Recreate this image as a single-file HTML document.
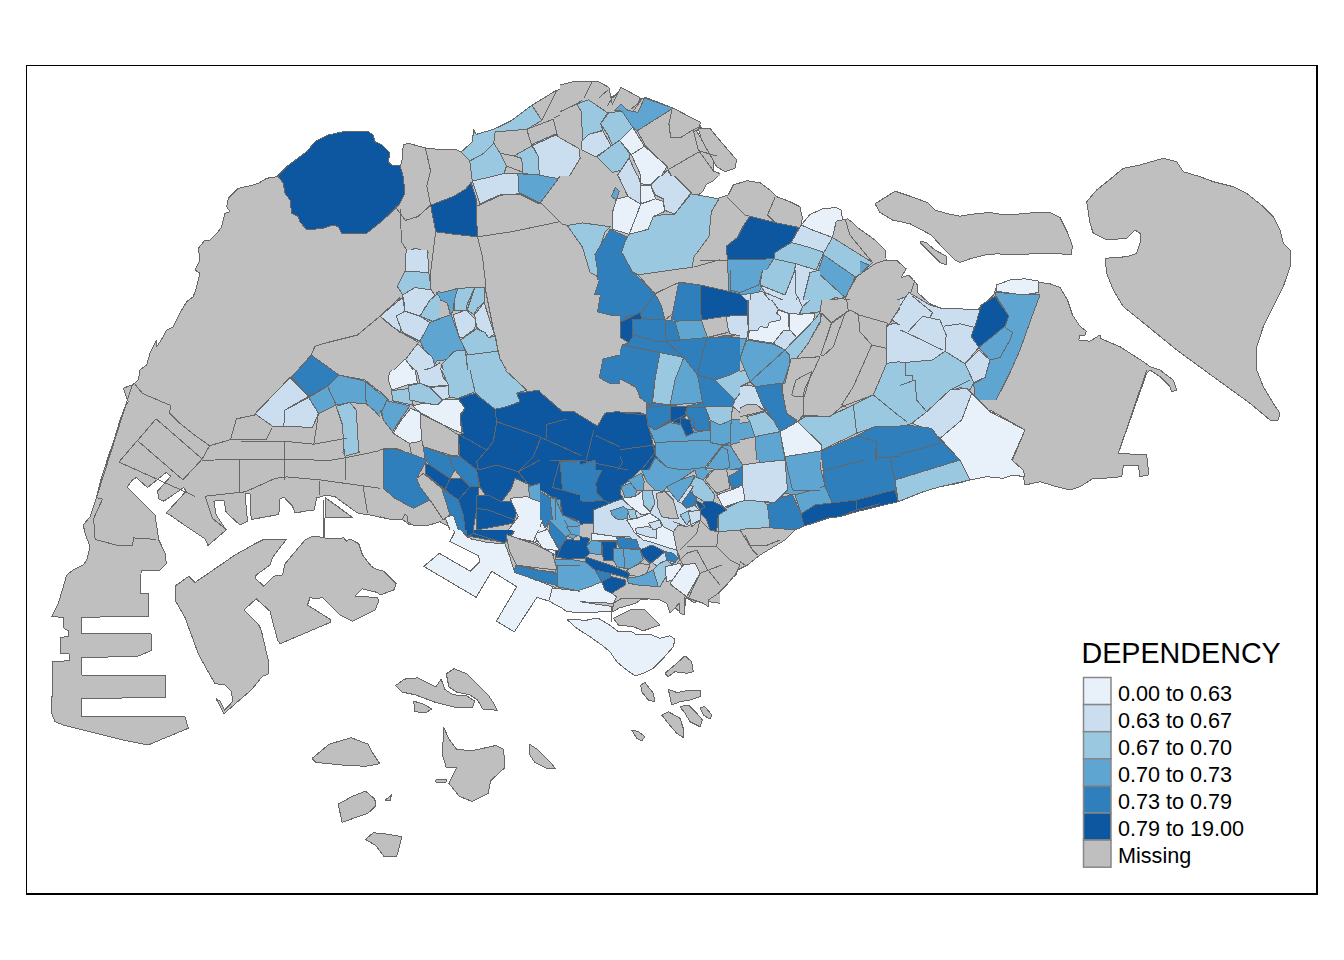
<!DOCTYPE html>
<html><head><meta charset="utf-8"><style>
html,body{margin:0;padding:0;background:#fff;}
svg{display:block;}
text{font-family:"Liberation Sans",sans-serif;fill:#000;}
</style></head><body>
<svg width="1344" height="960" viewBox="0 0 1344 960">
<rect x="0" y="0" width="1344" height="960" fill="#fff"/>
<g stroke="#666666" stroke-width="1" stroke-linejoin="round" shape-rendering="crispEdges">
<polygon fill="#BFBFBF" points="188.3,728.3 160.0,740.0 148.3,745.0 123.3,740.0 83.3,730.0 63.3,725.0 55.0,721.7 51.7,713.3 52.7,661.7 69.3,660.7 69.3,654.0 60.0,653.3 60.0,637.3 68.3,636.7 68.3,630.7 64.0,628.3 63.3,617.3 51.7,616.7 58.3,603.3 63.3,586.7 66.7,575.0 73.3,570.0 83.3,565.0 86.7,560.0 90.0,546.7 85.0,533.3 83.3,525.0 90.0,516.7 96.7,496.7 101.7,476.7 108.3,456.7 115.0,436.7 120.0,420.0 125.0,406.7 128.3,401.7 125.0,393.3 123.3,388.3 131.7,385.0 135.0,383.3 138.3,380.0 140.0,370.0 146.7,365.0 150.0,353.3 156.7,340.0 156.7,346.7 163.3,336.7 166.7,330.0 173.3,326.7 181.7,310.0 186.7,301.7 193.3,296.7 196.7,286.7 200.0,273.3 195.0,270.0 200.0,260.0 198.3,248.3 205.0,240.0 210.0,240.0 218.3,231.7 221.7,226.7 225.0,213.3 230.0,211.7 226.7,206.7 228.3,198.3 238.3,188.3 253.3,185.0 258.3,183.3 266.7,178.3 276.7,176.7 278.3,176.7 286.7,166.7 306.7,151.7 315.0,141.7 328.3,135.0 343.3,131.7 368.3,131.7 373.3,135.0 375.0,141.7 381.7,145.0 390.0,153.3 388.3,161.7 391.7,165.0 400.0,165.0 401.7,163.3 403.3,145.0 408.3,143.3 426.7,148.3 446.7,150.0 455.9,149.6 461.0,152.1 472.3,142.0 473.6,129.3 476.1,134.4 493.8,129.3 511.5,120.5 531.8,105.3 554.6,91.4 574.8,82.5 597.6,82.5 601.4,85.1 600.1,90.1 612.7,97.7 621.6,88.9 640.6,99.0 645.6,97.7 672.2,107.8 698.8,123.0 701.3,128.1 696.2,130.6 708.9,150.8 713.9,158.4 713.3,170.0 717.3,176.7 713.3,180.7 706.7,184.0 702.7,191.7 698.3,195.0 713.3,200.0 728.3,195.0 733.3,185.0 746.7,180.7 760.0,182.7 770.0,190.0 776.7,196.7 790.0,201.7 800.0,206.7 800.0,208.8 802.5,217.5 801.2,225.0 810.0,214.5 822.5,208.8 836.2,207.5 841.2,210.0 842.5,220.0 847.5,218.8 852.5,222.5 857.5,227.5 875.0,240.0 885.0,250.0 886.2,260.0 895.0,260.0 896.2,260.0 906.2,268.8 901.2,277.5 908.8,275.0 917.5,285.0 917.5,292.5 930.0,303.8 942.5,308.8 960.0,308.8 977.5,310.0 980.0,307.5 993.8,295.0 996.2,287.5 1005.0,281.2 1025.0,278.8 1040.0,282.5 1050.0,283.8 1060.0,287.5 1067.5,300.0 1072.5,315.0 1080.0,326.2 1086.2,331.2 1085.0,335.0 1080.0,335.0 1078.8,340.0 1090.0,341.2 1100.0,335.0 1100.0,338.3 1120.0,346.7 1143.3,361.7 1150.0,366.7 1160.0,370.0 1173.3,380.0 1176.7,390.0 1171.7,391.7 1170.0,386.7 1160.0,376.7 1150.0,370.0 1146.7,373.3 1118.3,453.3 1146.7,455.0 1148.3,470.0 1148.3,475.0 1140.0,476.7 1138.3,465.0 1123.3,466.0 1121.7,476.7 1103.3,478.3 1093.3,478.3 1080.0,486.7 1070.0,490.0 1056.7,486.7 1040.0,481.7 1025.0,485.0 1023.3,476.7 1013.3,475.0 1003.3,478.3 986.7,476.7 970.0,480.0 958.3,483.3 940.0,486.7 923.3,491.7 898.3,501.7 876.7,506.7 856.7,511.7 840.0,516.7 840.0,516.8 830.0,517.5 815.0,522.5 803.8,526.2 795.0,530.0 785.0,540.0 772.5,547.5 760.0,555.0 747.5,565.0 737.5,570.0 736.2,575.0 725.0,582.5 717.5,590.0 707.5,600.0 705.0,605.0 702.5,600.0 693.8,602.5 686.2,597.5 683.8,615.0 677.5,610.0 675.0,607.5 667.5,602.5 660.0,600.0 650.0,598.8 640.0,600.0 635.7,603.3 619.0,608.1 613.1,611.7 602.4,611.7 585.7,612.9 566.7,611.7 561.9,608.1 548.8,601.0 536.9,597.4 514.3,631.9 496.4,621.2 516.7,586.7 491.7,571.2 476.2,597.4 423.8,566.4 439.3,553.3 470.2,571.2 479.8,561.7 478.6,555.7 450.0,541.4 454.8,531.9 445.2,520.0 440.0,521.7 426.7,525.8 413.3,525.0 407.5,521.7 408.3,516.7 405.0,514.2 402.5,519.2 393.3,520.0 370.0,515.0 358.3,513.3 353.3,510.0 335.0,496.7 325.0,495.0 321.7,496.7 316.7,497.5 314.2,510.0 300.0,511.7 300.0,512.5 295.0,512.5 292.5,506.2 283.8,497.0 280.0,498.8 278.8,514.5 251.2,519.5 250.0,493.8 245.0,493.8 247.5,521.2 240.0,525.0 226.2,512.5 223.8,500.0 213.8,501.2 216.2,515.0 226.2,530.0 208.0,545.5 205.0,538.8 182.5,523.8 170.0,515.0 166.2,513.0 186.2,491.2 183.8,487.5 163.8,501.2 158.8,498.8 157.5,491.2 170.8,476.2 166.2,472.5 147.5,487.5 136.2,477.5 132.5,480.0 127.0,487.0 155.0,515.0 158.8,540.0 165.5,553.8 166.2,563.8 160.0,570.0 141.2,570.0 140.0,593.0 148.8,593.8 148.8,616.2 81.7,617.3 81.7,633.3 151.0,634.0 151.0,650.7 136.7,656.7 81.7,657.3 81.7,675.0 165.0,675.0 165.0,697.7 81.7,698.3 81.7,716.7 185.0,716.7"/>
<polygon fill="#BFBFBF" points="175.0,586.2 188.8,576.2 195.0,582.5 235.0,555.0 255.0,543.8 262.5,540.0 286.2,539.5 272.5,557.5 270.0,565.0 256.2,575.0 255.0,578.0 263.8,586.2 273.8,576.2 282.5,575.0 285.0,563.8 305.0,540.0 312.5,536.2 320.0,537.0 325.0,538.0 340.0,538.8 343.8,537.5 346.2,541.2 350.0,538.8 358.8,543.8 362.5,555.0 371.2,566.2 375.0,568.8 383.8,571.2 396.2,583.8 393.8,590.0 380.0,595.0 377.5,592.5 362.5,588.8 355.0,596.2 377.5,597.5 378.8,601.2 375.0,610.0 352.5,621.2 340.0,615.0 322.5,597.5 315.0,598.8 310.0,597.5 307.5,605.0 331.2,620.0 330.0,622.5 280.0,643.8 277.5,640.0 270.0,611.2 256.2,598.8 243.8,610.0 247.5,613.8 258.8,625.0 261.2,630.0 268.8,662.5 268.8,673.8 262.5,676.2 251.2,690.0 232.5,706.2 223.8,713.8 216.2,698.8 220.0,701.2 224.5,710.0 233.0,701.2 231.2,691.2 224.5,684.5 215.0,683.8 210.0,675.0 198.8,655.0 185.0,617.5 175.0,600.0"/>
<polygon fill="#BFBFBF" points="698.3,128.3 710.0,128.3 716.7,136.7 736.7,160.0 735.0,168.3 725.0,171.7 716.7,166.7 701.7,140.0"/>
<polygon fill="#BFBFBF" points="875.0,203.8 885.0,197.5 895.0,191.2 910.0,196.2 927.5,202.5 935.0,210.0 947.5,213.8 960.0,216.2 975.0,213.8 990.0,212.5 1005.0,215.0 1022.5,213.8 1035.0,212.5 1050.0,212.5 1060.0,217.5 1067.5,232.5 1072.5,246.2 1071.2,255.0 1060.0,253.8 1032.5,253.8 1010.0,255.0 997.5,253.8 985.0,255.0 970.0,258.8 960.0,262.5 955.0,260.0 950.0,255.0 942.5,247.5 931.2,235.0 910.0,223.8 892.5,220.0 880.0,212.5"/>
<polygon fill="#BFBFBF" points="920.0,241.2 926.2,242.5 935.0,250.0 946.2,256.2 946.2,265.0 940.0,262.5 932.5,255.0 921.2,243.8"/>
<polygon fill="#BFBFBF" points="1086.7,201.7 1096.7,190.0 1113.3,176.7 1123.3,168.3 1140.0,165.0 1163.3,158.3 1176.7,161.7 1183.3,171.7 1200.0,176.7 1213.3,181.7 1233.3,186.7 1246.7,193.3 1263.3,206.7 1273.3,216.7 1280.0,230.0 1283.3,243.3 1290.0,250.0 1290.0,266.7 1283.3,286.7 1273.3,306.7 1263.3,326.7 1256.7,346.7 1256.7,370.0 1263.3,386.7 1273.3,403.3 1280.0,413.3 1278.3,420.0 1270.0,420.0 1250.0,403.3 1213.3,376.7 1176.7,350.0 1140.0,320.0 1123.3,306.7 1113.3,290.0 1106.7,273.3 1105.0,258.3 1126.7,256.7 1136.7,253.3 1140.0,243.3 1140.0,233.3 1135.0,230.0 1126.7,238.3 1106.7,240.0 1093.3,233.3 1090.0,223.3"/>
<polygon fill="#E8F1FA" stroke="none" points="445.2,520.0 457.1,520.0 464.3,534.3 471.4,539.0 488.1,542.6 504.8,543.8 509.5,555.7 514.3,571.2 556.0,587.9 554.8,591.4 548.8,601.0 536.9,597.4 514.3,631.9 496.4,621.2 516.7,586.7 491.7,571.2 476.2,597.4 423.8,566.4 439.3,553.3 470.2,571.2 479.8,561.7 478.6,555.7 450.0,541.4 454.8,531.9"/>
<path fill="none" d="M457.1,520.0 L464.3,534.3 L471.4,539.0 L488.1,542.6 L504.8,543.8 L509.5,555.7 L514.3,571.2 L556.0,587.9 L554.8,591.4 L548.8,601.0 L536.9,597.4 L514.3,631.9 L496.4,621.2 L516.7,586.7 L491.7,571.2 L476.2,597.4 L423.8,566.4 L439.3,553.3 L470.2,571.2 L479.8,561.7 L478.6,555.7 L450.0,541.4 L454.8,531.9 L445.2,520.0"/>
<polygon fill="#E8F1FA" points="548.8,601.0 552.4,587.9 581.0,591.4 597.6,593.8 616.7,596.2 611.9,602.1 613.1,611.7 602.4,611.7 585.7,612.9 566.7,611.7 561.9,608.1"/>
<polygon fill="#BFBFBF" points="395.5,685.6 404.6,679.1 417.6,677.8 425.4,681.7 435.9,686.9 441.1,679.1 445.0,689.5 452.8,694.7 467.1,696.0 474.9,701.2 472.3,707.7 456.7,707.7 435.9,702.5 415.0,694.7 402.0,692.1"/>
<polygon fill="#BFBFBF" points="446.3,673.9 454.1,668.7 467.1,673.9 477.5,684.3 488.0,694.7 493.2,702.5 497.1,710.3 482.7,709.0 477.5,699.9 469.7,694.7 456.7,692.1 448.9,686.9"/>
<polygon fill="#BFBFBF" points="413.7,701.2 422.8,703.8 432.0,709.0 425.4,712.9 415.0,711.6"/>
<polygon fill="#BFBFBF" points="312.1,758.5 329.1,744.2 351.2,737.7 357.7,740.3 368.1,744.2 372.0,752.0 379.9,763.7 365.5,766.3 342.1,765.0 316.0,762.4"/>
<polygon fill="#BFBFBF" points="443.7,727.3 448.9,739.0 456.7,749.4 472.3,750.7 495.8,745.5 503.6,749.4 504.9,767.6 490.6,780.7 488.0,793.7 472.3,801.5 459.3,796.3 448.9,783.3 456.7,767.6 446.3,767.6 442.4,754.6"/>
<polygon fill="#BFBFBF" points="529.6,744.2 537.4,749.4 550.5,762.4 555.7,768.9 547.9,768.9 534.8,762.4 529.6,754.6"/>
<polygon fill="#BFBFBF" points="338.2,804.1 352.5,796.3 365.5,791.1 374.7,798.9 376.0,805.4 368.1,813.2 342.1,822.3"/>
<polygon fill="#BFBFBF" points="365.5,839.3 373.3,832.7 386.4,834.0 402.0,836.7 396.8,856.2 383.8,856.2 376.0,845.8"/>
<polygon fill="#BFBFBF" points="435.9,779.9 446.3,779.3 446.3,782.0 435.9,782.0"/>
<polygon fill="#BFBFBF" points="385.1,800.2 391.6,795.0 390.3,800.2"/>
<polygon fill="#E8F1FA" points="567.5,620.0 576.7,619.2 585.0,620.8 590.0,619.2 598.3,618.3 608.3,624.2 618.3,631.7 631.7,631.7 636.7,635.0 650.0,634.2 660.0,638.3 670.0,635.8 675.0,639.2 673.3,646.7 663.3,658.3 653.3,668.3 643.3,673.3 635.0,675.8 626.7,670.0 616.7,661.7 610.0,651.7 601.7,645.0 590.0,636.7 576.7,628.3"/>
<polygon fill="#BFBFBF" points="613.3,618.3 630.0,610.0 644.2,609.2 660.0,625.0 643.3,630.8 633.3,626.7 618.3,625.0"/>
<polygon fill="#BFBFBF" points="665.0,673.3 676.7,663.3 685.0,655.8 691.7,661.7 693.3,671.7 686.7,673.3 675.0,671.7 668.3,676.7"/>
<polygon fill="#BFBFBF" points="640.8,685.0 645.0,682.5 653.3,693.3 655.0,701.7 648.3,700.0 641.7,691.7"/>
<polygon fill="#BFBFBF" points="668.3,689.2 676.7,692.5 686.7,690.8 700.8,690.0 700.0,696.7 690.0,700.0 680.0,701.7 671.7,705.0"/>
<polygon fill="#BFBFBF" points="680.0,706.7 688.3,705.0 696.7,713.3 702.5,720.0 700.0,726.7 690.0,721.7 685.0,713.3"/>
<polygon fill="#BFBFBF" points="661.7,715.0 668.3,711.7 680.0,718.3 683.3,728.3 683.3,737.5 676.7,733.3 668.3,723.3"/>
<polygon fill="#BFBFBF" points="700.0,707.5 705.0,706.7 711.7,715.0 710.0,719.2 703.3,715.0"/>
<polygon fill="#BFBFBF" points="631.7,730.0 638.3,731.7 645.0,736.7 641.7,740.8 636.7,738.3"/>
<polygon fill="#0D57A1" points="276.7,176.7 286.7,166.7 306.7,151.7 315.0,141.7 328.3,135.0 343.3,131.7 368.3,131.7 373.3,135.0 375.0,141.7 381.7,145.0 390.0,153.3 388.3,161.7 391.7,165.0 400.0,165.0 403.3,176.7 405.0,193.3 400.0,203.3 396.7,206.7 383.3,220.0 366.7,233.3 341.7,233.3 338.3,226.7 333.3,225.0 323.3,228.3 306.7,230.0 300.0,221.7 298.3,216.7 291.7,213.3 290.0,200.0 285.0,193.3 283.3,183.3 278.3,176.7"/>
<polyline fill="none" points="323.8,500.0 323.8,537.5"/>
<polygon fill="#9AC8E0" points="461.0,152.1 472.3,142.0 473.6,130.6 476.1,134.4 493.8,129.3 511.5,120.5 531.8,105.3 541.9,120.5 526.7,129.3 495.1,131.9 493.8,143.2 483.7,153.4 469.8,161.0"/>
<polygon fill="#9AC8E0" points="469.8,161.0 483.7,153.4 493.8,143.2 500.2,153.4 506.5,166.0 504.0,173.6 472.3,181.2"/>
<polygon fill="#9AC8E0" points="514.1,155.9 531.8,145.8 538.1,155.9 539.4,174.9 522.9,173.6 521.7,158.4"/>
<polygon fill="#CADEF0" points="531.8,144.5 554.6,134.4 579.9,148.3 577.3,158.4 557.1,178.7 539.4,176.1 538.1,155.9"/>
<polygon fill="#9AC8E0" points="576.1,102.8 590.0,97.7 600.1,102.8 607.7,110.4 600.1,123.0 602.6,129.3 582.4,140.7 584.9,133.1"/>
<polygon fill="#CADEF0" points="582.4,140.7 602.6,130.6 610.2,147.0 595.0,155.9 582.4,148.3"/>
<polygon fill="#9AC8E0" points="600.1,123.0 622.9,111.6 633.0,126.8 619.1,136.9 610.2,147.0 602.6,130.6"/>
<polygon fill="#5EA5D1" points="616.5,105.3 645.6,97.7 672.2,107.8 636.8,130.6 633.0,126.8 622.9,111.6"/>
<polygon fill="#E8F1FA" points="619.1,136.9 633.0,126.8 636.8,130.6 644.4,147.0 631.7,154.6"/>
<polygon fill="#9AC8E0" points="596.3,155.9 610.2,147.0 619.1,136.9 631.7,154.6 626.7,169.8 612.7,171.1"/>
<polygon fill="#CADEF0" points="617.8,173.6 626.7,169.8 640.6,168.5 640.6,204.0 627.9,196.4 617.8,174.9"/>
<polygon fill="#E8F1FA" points="631.7,154.6 644.4,147.0 667.1,168.5 650.7,185.0 640.6,183.7"/>
<polygon fill="#E8F1FA" points="640.6,185.0 650.7,185.0 655.7,198.9 645.6,204.0 640.6,202.7"/>
<polygon fill="#CADEF0" points="650.7,185.0 667.1,168.5 691.2,192.6 674.7,214.1 664.6,210.3 663.3,198.9 655.7,195.1"/>
<polygon fill="#5EA5D1" points="611.5,196.4 615.3,187.5 619.1,191.3 616.5,200.2"/>
<polygon fill="#E8F1FA" points="616.5,198.9 627.9,196.4 640.6,204.0 638.0,211.5 629.2,234.3 612.7,229.3 612.7,211.5"/>
<polygon fill="#E8F1FA" points="640.6,204.0 655.7,198.9 663.3,201.4 664.6,211.5 653.2,216.6 648.2,229.3 629.2,234.3 638.0,211.5"/>
<polygon fill="#9AC8E0" points="665.9,214.1 674.7,214.1 691.2,193.8 719.0,198.9 711.4,211.5 708.9,236.8 693.7,257.1 692.4,267.2 638.0,274.8 622.9,267.2 621.6,247.0 629.2,234.3 648.2,229.3 653.2,216.6"/>
<polygon fill="#9AC8E0" points="567.2,225.5 582.4,222.9 610.2,226.7 605.1,231.8 597.6,254.6 598.8,277.3 590.0,272.3 582.4,247.0"/>
<polygon fill="#2F7FBC" points="610.2,229.3 626.7,236.8 621.6,252.0 635.5,277.3 607.7,278.6 598.8,277.3 595.0,254.6"/>
<polygon fill="#2F7FBC" stroke="none" points="598.8,279.9 635.5,277.3 657.0,295.0 664.6,320.1 622.9,320.1 600.1,312.7 593.8,295.0"/>
<path fill="none" d="M598.8,279.9 L635.5,277.3 L657.0,295.0 L664.6,320.1 M622.9,320.1 L600.1,312.7 L593.8,295.0 L598.8,279.9"/>
<polygon fill="#2F7FBC" stroke="none" points="670.9,320.1 681.0,282.4 700.0,284.9 700.0,320.1"/>
<path fill="none" d="M670.9,320.1 L681.0,282.4 L700.0,284.9 L700.0,320.1"/>
<polygon fill="#0D57A1" stroke="none" points="700.0,284.9 720.0,290.0 720.0,320.1 700.0,320.1"/>
<path fill="none" d="M700.0,284.9 L720.0,290.0 M700.0,320.1 L700.0,284.9"/>
<polygon fill="#5EA5D1" points="516.6,173.6 538.1,174.9 558.3,178.7 539.4,204.0 519.1,193.8"/>
<polygon fill="#CADEF0" points="472.3,181.2 504.0,173.6 517.9,173.6 519.1,193.8 498.9,195.1 479.9,204.0"/>
<polygon fill="#0D57A1" points="430.6,205.2 453.4,196.4 466.0,188.8 471.1,182.5 476.1,198.9 477.4,236.8 454.6,234.3 435.7,231.8"/>
<polygon fill="#CADEF0" points="406.6,252.0 415.4,248.2 428.1,252.0 426.8,272.3 407.8,272.3"/>
<polygon fill="#9AC8E0" points="397.7,287.4 406.6,272.3 426.8,272.3 429.3,290.0 412.9,290.0"/>
<polygon fill="#CADEF0" stroke="none" points="395.2,320.1 405.3,292.5 429.3,290.0 433.1,300.1 424.3,320.1"/>
<path fill="none" d="M395.2,320.1 L405.3,292.5 L429.3,290.0 L433.1,300.1 L424.3,320.1"/>
<polygon fill="#5EA5D1" points="436.9,292.5 458.4,287.4 453.4,307.7 440.7,307.7"/>
<polygon fill="#9AC8E0" points="454.6,287.4 476.1,287.4 468.5,307.7 454.6,305.1"/>
<polygon fill="#9AC8E0" points="476.1,287.4 486.2,287.4 486.2,307.7 468.5,307.7"/>
<polygon fill="#CADEF0" stroke="none" points="424.3,320.1 433.1,300.1 449.6,307.7 463.5,312.7 468.5,307.7 486.2,307.7 486.2,320.1"/>
<path fill="none" d="M424.3,320.1 L433.1,300.1 L449.6,307.7 L463.5,312.7 L468.5,307.7 L486.2,307.7 L486.2,320.1"/>
<polyline fill="none" points="425.5,148.3 430.6,171.1 426.8,186.2 430.6,205.2"/>
<polyline fill="none" points="395.2,206.5 405.3,220.4 417.9,216.6 430.6,205.2"/>
<polyline fill="none" points="400.2,209.0 401.5,241.9 407.8,252.0"/>
<polyline fill="none" points="435.7,231.8 430.6,272.3 430.6,290.0"/>
<polyline fill="none" points="477.4,236.8 482.5,257.1 486.2,287.4"/>
<polyline fill="none" points="477.4,236.8 511.5,231.8 559.6,221.7"/>
<polyline fill="none" points="476.1,206.5 501.4,195.1 521.7,193.8 541.9,204.0 562.1,224.2 568.5,225.5"/>
<polyline fill="none" points="539.4,204.0 579.9,149.6"/>
<polyline fill="none" points="582.4,148.3 595.0,155.9 612.7,171.1"/>
<polyline fill="none" points="640.6,168.5 640.6,183.7"/>
<polyline fill="none" points="638.0,274.8 655.7,295.0"/>
<polyline fill="none" points="681.0,282.4 663.3,295.0 657.0,295.0"/>
<polyline fill="none" points="693.7,267.2 720.0,259.6"/>
<polyline fill="none" points="672.2,107.8 668.4,138.2 692.4,131.9 696.2,130.6"/>
<polyline fill="none" points="667.1,168.5 698.8,150.8 716.5,155.9"/>
<polyline fill="none" points="495.1,131.9 526.7,129.3 531.8,145.8 514.1,155.9 500.2,153.4 493.8,143.2"/>
<polyline fill="none" points="500.2,153.4 514.1,155.9 521.7,158.4 522.9,172.3 506.5,166.0"/>
<polyline fill="none" points="526.7,129.3 553.3,119.2 557.1,134.4 531.8,145.8"/>
<polyline fill="none" points="554.6,117.9 581.1,102.8 582.4,148.3"/>
<polyline fill="none" points="541.9,120.5 557.1,90.1"/>
<polyline fill="none" points="582.4,102.8 590.0,97.7 582.4,85.1"/>
<polyline fill="none" points="672.2,107.8 636.8,130.6"/>
<polygon fill="#0D57A1" points="750.0,216.2 775.0,222.5 798.8,227.5 791.2,242.5 775.0,252.5 773.8,258.8 727.5,260.0 726.2,246.2 737.5,237.5 743.8,225.0"/>
<polygon fill="#5EA5D1" points="727.5,260.0 773.8,258.8 760.0,280.0 762.5,285.0 758.8,292.5 740.0,295.0 728.8,293.8"/>
<polygon fill="#9AC8E0" points="775.0,252.5 791.2,242.5 810.0,247.5 823.8,252.5 816.2,270.0 796.2,263.8 773.8,258.8"/>
<polygon fill="#9AC8E0" points="760.0,280.0 773.8,258.8 796.2,263.8 786.2,295.0 762.5,285.0"/>
<polygon fill="#CADEF0" points="796.2,263.8 816.2,270.0 810.0,281.2 811.2,297.5 802.5,306.2 786.2,295.0"/>
<polygon fill="#9AC8E0" points="810.0,280.0 817.5,272.5 845.0,297.5 820.0,302.5 802.5,306.2 811.2,297.5"/>
<polygon fill="#5EA5D1" points="817.5,272.5 823.8,255.0 856.2,277.5 845.0,297.5"/>
<polygon fill="#9AC8E0" points="825.0,240.0 832.5,237.5 872.5,262.5 856.2,277.5 823.8,255.0"/>
<polygon fill="#E8F1FA" points="801.2,225.0 810.0,214.5 822.5,208.8 836.2,207.5 841.2,210.0 842.5,220.0 836.2,221.2 832.5,237.5 812.5,230.0"/>
<polygon fill="#CADEF0" points="791.2,242.5 801.2,225.0 812.5,230.0 832.5,237.5 823.8,252.5 810.0,247.5"/>
<polygon fill="#0D57A1" stroke="none" points="700.0,285.0 740.0,295.0 746.2,300.0 748.8,315.0 700.0,322.5"/>
<path fill="none" d="M700.0,285.0 L740.0,295.0 L746.2,300.0 L748.8,315.0 L700.0,322.5"/>
<polygon fill="#CADEF0" points="740.0,295.0 758.8,292.5 777.5,310.0 775.0,322.5 761.2,330.0 748.8,330.0 747.5,315.0"/>
<polygon fill="#CADEF0" points="758.8,292.5 786.2,295.0 802.5,306.2 800.0,312.5 775.0,310.0"/>
<polygon fill="#E8F1FA" points="775.0,322.5 788.8,313.8 788.8,328.8 783.8,331.2 775.0,345.0 748.8,338.8 747.5,330.0 761.2,330.0"/>
<polygon fill="#E8F1FA" points="788.8,313.8 816.2,312.5 797.5,335.0 795.0,336.2 788.8,328.8"/>
<polygon fill="#CADEF0" points="775.0,345.0 783.8,331.2 795.0,336.2 787.5,350.0 777.5,347.5"/>
<polygon fill="#9AC8E0" points="797.5,335.0 816.2,312.5 821.2,315.0 820.0,325.0 810.0,337.5 796.2,358.8 787.5,350.0"/>
<polygon fill="#2F7FBC" stroke="none" points="700.0,342.5 725.0,335.0 745.0,340.0 740.0,357.5 741.2,370.0 748.8,375.0 730.0,376.2 715.0,385.0 700.0,386.2"/>
<path fill="none" d="M700.0,342.5 L725.0,335.0 L745.0,340.0 L740.0,357.5 L741.2,370.0 L748.8,375.0 L730.0,376.2 L715.0,385.0 L700.0,386.2"/>
<polygon fill="#5EA5D1" points="745.0,340.0 775.0,345.0 787.5,350.0 790.0,360.0 785.0,365.0 768.8,376.2 748.8,375.0 741.2,370.0 740.0,357.5"/>
<polygon fill="#9AC8E0" stroke="none" points="715.0,385.0 730.0,376.2 748.8,375.0 742.5,390.0 715.0,390.0"/>
<path fill="none" d="M715.0,385.0 L730.0,376.2 L748.8,375.0 L742.5,390.0 M715.0,390.0 L715.0,385.0"/>
<polygon fill="#5EA5D1" stroke="none" points="768.8,376.2 785.0,365.0 790.0,360.0 788.8,377.5 782.5,383.8 755.0,390.0 742.5,390.0 750.0,381.2"/>
<path fill="none" d="M768.8,376.2 L785.0,365.0 L790.0,360.0 L788.8,377.5 L782.5,383.8 L755.0,390.0 M742.5,390.0 L750.0,381.2 L768.8,376.2"/>
<polygon fill="#2F7FBC" stroke="none" points="755.0,390.0 782.5,383.8 783.8,390.0"/>
<path fill="none" d="M755.0,390.0 L782.5,383.8 L783.8,390.0"/>
<polygon fill="#CADEF0" points="892.5,322.5 897.5,300.0 910.0,295.0 931.2,307.5 920.0,325.0"/>
<polygon fill="#CADEF0" stroke="none" points="886.2,325.0 892.5,322.5 920.0,325.0 932.5,320.0 940.0,322.5 940.0,350.0 932.5,362.5 887.5,362.5"/>
<path fill="none" d="M886.2,325.0 L892.5,322.5 L920.0,325.0 L932.5,320.0 L940.0,322.5 M940.0,350.0 L932.5,362.5 L887.5,362.5 L886.2,325.0"/>
<polygon fill="#9AC8E0" stroke="none" points="875.0,390.0 886.2,363.8 905.0,363.8 933.8,360.0 940.0,357.5 940.0,390.0"/>
<path fill="none" d="M875.0,390.0 L886.2,363.8 L905.0,363.8 L933.8,360.0 L940.0,357.5"/>
<polyline fill="none" points="845.0,298.8 855.0,277.5 875.0,263.8 886.2,260.0"/>
<polyline fill="none" points="915.0,280.0 910.0,295.0 892.5,322.5 886.2,325.0 887.5,362.5"/>
<polyline fill="none" points="820.0,305.0 835.0,297.5 850.0,300.0 860.0,312.5 875.0,317.5 892.5,322.5"/>
<polyline fill="none" points="796.2,358.8 812.5,350.0 830.0,320.0 835.0,297.5"/>
<polyline fill="none" points="795.0,390.0 820.0,337.5 840.0,310.0"/>
<polyline fill="none" points="812.5,390.0 840.0,330.0 860.0,312.5"/>
<polyline fill="none" points="835.0,390.0 850.0,370.0 872.5,345.0 887.5,322.5"/>
<polyline fill="none" points="700.0,322.5 732.5,317.5 735.0,335.0 725.0,335.0"/>
<polyline fill="none" points="836.2,221.2 832.5,237.5"/>
<polyline fill="none" points="845.0,218.8 850.0,235.0 872.5,262.5"/>
<polyline fill="none" points="727.5,197.5 745.0,215.0 750.0,216.2"/>
<polyline fill="none" points="775.0,197.5 767.5,215.0 775.0,222.5"/>
<polyline fill="none" points="700.0,260.0 727.5,260.0"/>
<polygon fill="#5EA5D1" stroke="none" points="995.0,292.5 1040.0,295.0 1032.5,315.0 1020.0,350.0 1010.0,372.5 996.2,400.0 975.0,400.0 973.8,383.8 985.0,377.5 990.0,360.0 978.8,347.5 1005.0,326.2 1008.8,316.2 996.2,296.2"/>
<path fill="none" d="M995.0,292.5 L1040.0,295.0 L1032.5,315.0 L1020.0,350.0 L1010.0,372.5 L996.2,400.0 M975.0,400.0 L973.8,383.8 L985.0,377.5 L990.0,360.0 L978.8,347.5 L1005.0,326.2 L1008.8,316.2 L996.2,296.2 L995.0,292.5"/>
<polygon fill="#0D57A1" points="995.0,296.2 1008.8,316.2 1005.0,326.2 978.8,347.5 971.2,336.2 976.2,322.5 981.2,305.0"/>
<polyline fill="none" points="990.0,360.0 1000.0,357.5 1010.0,340.0 1012.5,332.5 1005.0,327.5"/>
<polygon fill="#E8F1FA" points="996.2,285.0 1010.0,280.0 1025.0,278.8 1038.8,281.2 1038.8,292.5 1022.5,295.0 996.2,291.2"/>
<polygon fill="#CADEF0" points="965.0,363.8 978.8,350.0 990.0,360.0 985.0,377.5 973.8,382.5"/>
<polygon fill="#CADEF0" points="887.5,325.0 908.8,292.5 930.0,305.0 942.5,308.8 960.0,308.8 977.5,310.0 980.0,307.5 981.2,305.0 976.2,322.5 971.2,336.2 978.8,347.5 965.0,363.8 945.0,351.2 932.5,360.0 905.0,362.5 887.5,362.5 885.0,335.0"/>
<polyline fill="none" points="887.5,325.0 906.2,332.5 942.5,350.0"/>
<polyline fill="none" points="907.5,332.5 922.5,316.2 940.0,320.0 946.2,335.0 945.0,351.2"/>
<polyline fill="none" points="912.5,296.2 932.5,312.5 930.0,317.5"/>
<polyline fill="none" points="943.8,326.2 960.0,323.8 975.0,327.5"/>
<polygon fill="#9AC8E0" stroke="none" points="905.0,362.5 932.5,360.0 945.0,351.2 965.0,363.8 973.8,382.5 970.0,390.0 960.0,387.5 947.5,392.5 942.5,400.0 915.0,400.0 912.5,375.0 905.0,375.0"/>
<path fill="none" d="M905.0,362.5 L932.5,360.0 L945.0,351.2 L965.0,363.8 L973.8,382.5 L970.0,390.0 L960.0,387.5 L947.5,392.5 L942.5,400.0 M915.0,400.0 L912.5,375.0 L905.0,375.0 L905.0,362.5"/>
<polygon fill="#9AC8E0" stroke="none" points="875.0,392.5 887.5,362.5 905.0,362.5 905.0,375.0 912.5,375.0 915.0,400.0 870.0,400.0"/>
<path fill="none" d="M875.0,392.5 L887.5,362.5 L905.0,362.5 L905.0,375.0 L912.5,375.0 L915.0,400.0 M870.0,400.0 L875.0,392.5"/>
<polygon fill="#5EA5D1" stroke="none" points="860.0,261.2 868.8,265.0 860.0,275.0"/>
<path fill="none" d="M860.0,261.2 L868.8,265.0 L860.0,275.0"/>
<polyline fill="none" points="860.0,315.0 887.5,325.0"/>
<polyline fill="none" points="885.0,335.0 872.5,350.0 860.0,400.0"/>
<polyline fill="none" points="1146.7,370.0 1118.3,453.3"/>
<polygon fill="#E8F1FA" stroke="none" points="980.0,410.0 990.0,410.0 1025.0,430.0 1011.7,461.7 1013.3,470.0 980.0,470.0"/>
<path fill="none" d="M980.0,410.0 L990.0,410.0 L1025.0,430.0 L1011.7,461.7 L1013.3,470.0"/>
<polygon fill="#E8F1FA" points="940.0,438.3 961.7,420.0 971.7,393.3 990.0,411.7 1025.0,430.0 1011.7,460.0 1023.3,470.0 1025.0,476.7 1013.3,475.0 1003.3,478.3 986.7,476.7 970.0,480.0 958.3,458.3"/>
<polygon fill="#CADEF0" points="911.7,423.3 926.7,411.7 950.0,390.0 966.7,388.3 971.7,393.3 961.7,420.0 940.0,438.3 930.0,430.0"/>
<polygon fill="#2F7FBC" stroke="none" points="840.0,440.0 856.7,433.3 876.7,426.7 906.7,425.0 931.7,428.3 940.0,440.0 960.0,460.0 895.0,480.0 896.7,493.3 855.0,500.0 840.0,503.3"/>
<path fill="none" d="M840.0,440.0 L856.7,433.3 L876.7,426.7 L906.7,425.0 L931.7,428.3 L940.0,440.0 L960.0,460.0 L895.0,480.0 L896.7,493.3 L855.0,500.0 L840.0,503.3"/>
<polyline fill="none" points="856.7,433.3 876.7,441.7 876.7,458.3"/>
<polyline fill="none" points="840.0,468.3 890.0,456.7 940.0,443.3"/>
<polyline fill="none" points="890.0,456.7 895.0,480.0"/>
<polygon fill="#0D57A1" stroke="none" points="840.0,503.3 855.0,499.3 895.0,490.0 898.3,501.7 876.7,506.7 856.7,511.7 840.0,516.7"/>
<path fill="none" d="M840.0,503.3 L855.0,499.3 L895.0,490.0 L898.3,501.7 L876.7,506.7 L856.7,511.7 L840.0,516.7"/>
<polygon fill="#9AC8E0" points="895.0,480.0 960.0,460.0 970.0,480.0 940.0,486.7 923.3,491.7 898.3,501.7"/>
<polygon fill="#9AC8E0" stroke="none" points="840.0,403.3 853.3,405.0 873.3,395.0 915.0,380.0 970.0,380.0 950.0,390.0 926.7,411.7 911.7,423.3 906.7,425.0 876.7,426.7 856.7,433.3 840.0,436.7"/>
<path fill="none" d="M840.0,403.3 L853.3,405.0 L873.3,395.0 L915.0,380.0 M970.0,380.0 L950.0,390.0 L926.7,411.7 L911.7,423.3 L906.7,425.0 L876.7,426.7 L856.7,433.3 L840.0,436.7"/>
<polyline fill="none" points="853.3,405.0 855.0,426.7 856.7,433.3"/>
<polyline fill="none" points="873.3,395.0 906.7,421.7"/>
<polyline fill="none" points="915.0,380.0 916.7,400.0 926.7,411.7"/>
<polygon fill="#9AC8E0" stroke="none" points="853.8,400.0 880.0,400.0 880.0,427.5 857.5,433.8 852.5,420.0"/>
<path fill="none" d="M880.0,427.5 L857.5,433.8 L852.5,420.0 L853.8,400.0"/>
<polygon fill="#9AC8E0" stroke="none" points="797.5,418.8 805.0,412.5 802.5,400.0 853.8,400.0 852.5,420.0 857.5,433.8 821.2,450.0 815.0,441.2"/>
<path fill="none" d="M797.5,418.8 L805.0,412.5 L802.5,400.0 M853.8,400.0 L852.5,420.0 L857.5,433.8 L821.2,450.0 L815.0,441.2 L797.5,418.8"/>
<polygon fill="#E8F1FA" points="780.0,432.5 797.5,422.5 815.0,441.2 821.2,448.8 818.8,453.8 785.0,457.5"/>
<polygon fill="#2F7FBC" stroke="none" points="821.2,450.0 857.5,433.8 876.2,440.0 880.0,427.5 880.0,493.8 856.2,500.0 832.5,503.8 825.0,487.5"/>
<path fill="none" d="M821.2,450.0 L857.5,433.8 L876.2,440.0 L880.0,427.5 M880.0,493.8 L856.2,500.0 L832.5,503.8 L825.0,487.5 L821.2,450.0"/>
<polyline fill="none" points="821.2,471.2 880.0,456.2"/>
<polyline fill="none" points="857.5,433.8 875.0,442.5 876.2,456.2"/>
<polygon fill="#5EA5D1" points="783.8,458.8 818.8,452.5 821.2,471.2 825.0,486.2 795.0,495.0 780.0,492.5 786.2,475.0"/>
<polygon fill="#5EA5D1" points="795.0,495.0 825.0,486.2 832.5,503.8 805.0,511.2 801.2,513.8"/>
<polygon fill="#0D57A1" stroke="none" points="801.2,513.8 815.0,505.0 856.2,500.0 880.0,493.8 880.0,503.8 856.2,510.0 840.0,516.8 830.0,517.5 815.0,522.5 803.8,526.2"/>
<path fill="none" d="M801.2,513.8 L815.0,505.0 L856.2,500.0 L880.0,493.8 M880.0,503.8 L856.2,510.0 L840.0,516.8 L830.0,517.5 L815.0,522.5 L803.8,526.2 L801.2,513.8"/>
<polyline fill="none" points="856.2,500.0 856.2,510.0"/>
<polygon fill="#2F7FBC" points="767.5,505.0 780.0,497.5 792.5,495.0 801.2,513.8 803.8,526.2 795.0,530.0 767.5,527.5"/>
<polygon fill="#9AC8E0" points="718.8,531.2 725.0,510.0 740.0,500.0 750.0,497.5 760.0,498.8 767.5,505.0 770.0,527.5 747.5,528.8"/>
<polygon fill="#CADEF0" points="743.8,466.2 760.0,460.0 782.5,460.0 786.2,477.5 780.0,492.5 780.0,497.5 767.5,502.5 757.5,500.0 745.0,490.0"/>
<polygon fill="#5EA5D1" points="752.5,437.5 776.2,432.5 782.5,460.0 760.0,460.0 757.5,450.0"/>
<polygon fill="#9AC8E0" points="745.0,417.5 763.8,412.5 776.2,428.8 776.2,432.5 752.5,437.5 750.0,422.5"/>
<polygon fill="#2F7FBC" stroke="none" points="760.0,400.0 782.5,400.0 795.0,415.0 790.0,422.5 780.0,432.5 776.2,430.0 763.8,412.5"/>
<path fill="none" d="M782.5,400.0 L795.0,415.0 L790.0,422.5 L780.0,432.5 L776.2,430.0 L763.8,412.5 L760.0,400.0"/>
<polygon fill="#BFBFBF" points="728.8,446.2 752.5,438.8 757.5,458.8 743.8,466.2 735.0,457.5"/>
<polygon fill="#5EA5D1" points="728.8,422.5 747.5,420.0 752.5,437.5 728.8,446.2 725.0,442.5"/>
<polygon fill="#9AC8E0" points="707.5,405.0 732.5,403.8 731.2,425.0 725.0,440.0 712.5,435.0 707.5,422.5"/>
<polygon fill="#5EA5D1" points="722.5,447.5 735.0,457.5 743.8,466.2 742.5,472.5 733.8,470.0 728.8,475.0 717.5,465.0"/>
<polygon fill="#2F7FBC" points="728.8,475.0 742.5,467.5 743.8,485.0 732.5,488.8"/>
<polygon fill="#E8F1FA" points="715.0,496.2 743.8,486.2 747.5,497.5 720.0,507.5"/>
<polygon fill="#BFBFBF" points="706.2,480.0 720.0,467.5 730.0,475.0 728.8,485.0 715.0,496.2"/>
<polygon fill="#9AC8E0" points="691.2,477.5 706.2,480.0 715.0,496.2 707.5,502.5 696.2,492.5"/>
<polygon fill="#E8F1FA" stroke="none" points="640.0,495.0 677.5,486.2 705.0,497.5 720.0,530.0 715.0,540.0 695.0,595.0 640.0,590.0"/>
<path fill="none" d="M640.0,495.0 L677.5,486.2 L705.0,497.5 L720.0,530.0 L715.0,540.0 L695.0,595.0 L640.0,590.0"/>
<polygon fill="#0D57A1" points="702.5,507.5 710.0,502.5 720.0,500.0 727.5,510.0 721.2,513.8 717.5,532.5 710.0,530.0 706.2,516.2"/>
<polygon fill="#2F7FBC" points="682.5,492.5 696.2,492.5 707.5,502.5 700.0,505.0 690.0,497.5"/>
<polygon fill="#CADEF0" points="678.8,498.8 692.5,485.0 697.5,488.8 683.8,503.8"/>
<polygon fill="#5EA5D1" points="645.0,460.0 677.5,460.0 688.8,467.5 695.0,472.5 691.2,477.5 677.5,485.0 667.5,495.0 655.0,482.5 643.8,472.5"/>
<polygon fill="#5EA5D1" points="655.0,445.0 690.0,441.2 707.5,440.0 715.0,445.0 712.5,456.2 695.0,472.5 688.8,467.5 677.5,460.0 645.0,460.0"/>
<polygon fill="#0D57A1" stroke="none" points="640.0,412.5 646.2,415.0 651.2,445.0 640.0,450.0"/>
<path fill="none" d="M640.0,412.5 L646.2,415.0 L651.2,445.0 L640.0,450.0"/>
<polygon fill="#0D57A1" stroke="none" points="640.0,450.0 655.0,445.0 657.5,460.0 645.0,472.5 640.0,471.2"/>
<path fill="none" d="M640.0,450.0 L655.0,445.0 L657.5,460.0 L645.0,472.5 L640.0,471.2"/>
<polygon fill="#0D57A1" points="671.2,405.0 686.2,407.5 687.5,415.0 681.2,420.0 691.2,426.2 693.8,435.0 685.0,436.2 680.0,423.8 670.0,421.2"/>
<polygon fill="#2F7FBC" points="646.2,403.8 671.2,403.8 670.0,421.2 662.5,425.0 648.8,427.5 646.2,415.0"/>
<polygon fill="#2F7FBC" points="686.2,406.2 705.0,402.5 707.5,412.5 710.0,428.8 693.8,428.8 691.2,425.0 687.5,415.0"/>
<polygon fill="#5EA5D1" points="648.8,428.8 680.0,423.8 685.0,436.2 692.5,440.0 690.0,441.2 657.5,443.8 651.2,437.5"/>
<polygon fill="#5EA5D1" points="693.8,430.0 710.0,428.8 711.2,438.8 702.5,441.2 692.5,440.0"/>
<polygon fill="#5EA5D1" stroke="none" points="640.0,472.5 645.0,472.5 655.0,482.5 666.2,495.0 655.0,492.5 640.0,487.5"/>
<path fill="none" d="M640.0,472.5 L645.0,472.5 L655.0,482.5 L666.2,495.0 L655.0,492.5 L640.0,487.5"/>
<polygon fill="#CADEF0" stroke="none" points="640.0,487.5 655.0,492.5 660.0,500.0 655.0,512.5 640.0,510.0"/>
<path fill="none" d="M640.0,487.5 L655.0,492.5 L660.0,500.0 L655.0,512.5 L640.0,510.0"/>
<polygon fill="#0D57A1" stroke="none" points="642.5,547.5 655.0,545.0 665.0,552.5 651.2,562.5 640.0,557.5"/>
<path fill="none" d="M642.5,547.5 L655.0,545.0 L665.0,552.5 L651.2,562.5 L640.0,557.5 L642.5,547.5"/>
<polygon fill="#9AC8E0" points="680.0,512.5 690.0,510.0 693.8,520.0 686.2,525.0"/>
<polygon fill="#CADEF0" points="688.8,520.0 697.5,513.8 702.5,520.0 693.8,527.5"/>
<polygon fill="#CADEF0" stroke="none" points="640.0,525.0 655.0,522.5 657.5,535.0 640.0,537.5"/>
<path fill="none" d="M640.0,525.0 L655.0,522.5 L657.5,535.0 L640.0,537.5"/>
<polygon fill="#9AC8E0" points="653.8,565.0 665.0,557.5 675.0,565.0 667.5,575.0 657.5,580.0"/>
<polygon fill="#5EA5D1" points="665.0,552.5 677.5,555.0 676.2,561.2 667.5,560.0"/>
<polygon fill="#BFBFBF" points="680.0,525.0 697.5,530.0 710.0,530.0 717.5,532.5 715.0,547.5 697.5,580.0 687.5,597.5 677.5,590.0 685.0,572.5 672.5,565.0 680.0,540.0"/>
<polygon fill="#BFBFBF" points="657.5,495.0 672.5,492.5 675.0,505.0 665.0,515.0 655.0,512.5"/>
<polygon fill="#BFBFBF" stroke="none" points="640.0,557.5 651.2,562.5 657.5,580.0 655.0,590.0 640.0,587.5"/>
<path fill="none" d="M640.0,557.5 L651.2,562.5 L657.5,580.0 L655.0,590.0 L640.0,587.5"/>
<polyline fill="none" points="715.0,540.0 722.5,550.0 745.0,565.0"/>
<polyline fill="none" points="717.5,532.5 740.0,530.0 752.5,550.0 757.5,555.0"/>
<polyline fill="none" points="745.0,535.0 750.0,545.0 767.5,545.0 780.0,540.0"/>
<polyline fill="none" points="697.5,580.0 715.0,585.0 725.0,582.5"/>
<polyline fill="none" points="697.5,552.5 707.5,560.0 717.5,575.0 722.5,585.0"/>
<polygon fill="#0D57A1" stroke="none" points="458.8,398.8 472.5,393.8 482.5,396.2 495.0,408.8 515.0,402.5 518.8,392.5 530.0,391.2 540.0,397.5 565.0,417.5 575.0,412.5 597.5,425.0 602.5,415.0 620.0,412.5 640.0,412.5 640.0,472.5 626.2,485.0 620.0,492.5 610.0,505.0 597.5,512.5 590.0,525.0 562.5,515.0 560.0,500.0 550.0,496.2 545.0,492.5 530.0,485.0 515.0,497.5 516.2,510.0 512.5,520.0 513.8,532.5 505.0,542.5 480.0,535.0 472.5,535.0 467.5,537.5 463.8,530.0 457.5,512.5 445.0,495.0 440.0,487.5 425.0,472.5 432.5,462.5 450.0,457.5 458.8,455.0 458.8,435.0 461.2,430.0 458.8,417.5 462.5,407.5"/>
<path fill="none" d="M458.8,398.8 L472.5,393.8 L482.5,396.2 L495.0,408.8 L515.0,402.5 L518.8,392.5 L530.0,391.2 L540.0,397.5 L565.0,417.5 L575.0,412.5 L597.5,425.0 L602.5,415.0 L620.0,412.5 L640.0,412.5 M640.0,472.5 L626.2,485.0 L620.0,492.5 L610.0,505.0 L597.5,512.5 L590.0,525.0 L562.5,515.0 L560.0,500.0 L550.0,496.2 L545.0,492.5 L530.0,485.0 L515.0,497.5 L516.2,510.0 L512.5,520.0 L513.8,532.5 L505.0,542.5 L480.0,535.0 L472.5,535.0 L467.5,537.5 L463.8,530.0 L457.5,512.5 L445.0,495.0 L440.0,487.5 L425.0,472.5 L432.5,462.5 L450.0,457.5 L458.8,455.0 L458.8,435.0 L461.2,430.0 L458.8,417.5 L462.5,407.5 L458.8,398.8"/>
<polygon fill="#9AC8E0" stroke="none" points="475.0,380.0 520.0,380.0 530.0,391.2 518.8,392.5 515.0,402.5 495.0,408.8 482.5,396.2 475.0,393.8"/>
<path fill="none" d="M520.0,380.0 L530.0,391.2 L518.8,392.5 L515.0,402.5 L495.0,408.8 L482.5,396.2 L475.0,393.8 L475.0,380.0"/>
<polygon fill="#9AC8E0" stroke="none" points="447.5,380.0 475.0,380.0 473.8,393.8 458.8,398.8 450.0,397.5"/>
<path fill="none" d="M475.0,380.0 L473.8,393.8 L458.8,398.8 L450.0,397.5 L447.5,380.0"/>
<polygon fill="#CADEF0" stroke="none" points="420.0,380.0 447.5,380.0 450.0,397.5 440.0,398.8 430.0,390.0"/>
<path fill="none" d="M447.5,380.0 L450.0,397.5 L440.0,398.8 L430.0,390.0 L420.0,380.0"/>
<polygon fill="#9AC8E0" points="407.5,385.0 430.0,390.0 440.0,398.8 437.5,403.8 413.8,402.5 407.5,395.0"/>
<polygon fill="#E8F1FA" points="412.5,405.0 437.5,403.8 458.8,398.8 462.5,407.5 458.8,417.5 461.2,432.5 422.5,412.5"/>
<polygon fill="#9AC8E0" stroke="none" points="400.0,390.0 407.5,395.0 413.8,402.5 400.0,403.8"/>
<path fill="none" d="M400.0,390.0 L407.5,395.0 L413.8,402.5 L400.0,403.8"/>
<polygon fill="#5EA5D1" stroke="none" points="400.0,405.0 410.0,402.5 400.0,415.0"/>
<path fill="none" d="M400.0,405.0 L410.0,402.5 L400.0,415.0"/>
<polygon fill="#E8F1FA" stroke="none" points="400.0,415.0 410.0,407.5 422.5,412.5 420.0,430.0 415.0,440.0 400.0,437.5"/>
<path fill="none" d="M400.0,415.0 L410.0,407.5 L422.5,412.5 L420.0,430.0 L415.0,440.0 L400.0,437.5"/>
<polygon fill="#BFBFBF" points="420.0,413.8 458.8,433.8 458.8,455.0 432.5,450.0 422.5,443.8 417.5,437.5"/>
<polygon fill="#BFBFBF" stroke="none" points="400.0,440.0 410.0,437.5 415.0,450.0 425.0,460.0 400.0,455.0"/>
<path fill="none" d="M400.0,440.0 L410.0,437.5 L415.0,450.0 L425.0,460.0 L400.0,455.0"/>
<polygon fill="#2F7FBC" stroke="none" points="400.0,455.0 423.8,460.0 416.2,480.0 420.0,490.0 428.8,500.0 415.0,508.8 400.0,508.8"/>
<path fill="none" d="M400.0,455.0 L423.8,460.0 L416.2,480.0 L420.0,490.0 L428.8,500.0 L415.0,508.8 L400.0,508.8"/>
<polygon fill="#BFBFBF" points="416.2,480.0 425.0,472.5 445.0,495.0 457.5,512.5 450.0,520.0 440.0,520.0 432.5,505.0 417.5,490.0"/>
<polygon fill="#BFBFBF" stroke="none" points="400.0,510.0 412.5,507.5 428.8,500.0 440.0,520.0 410.0,525.0 400.0,517.5"/>
<path fill="none" d="M400.0,510.0 L412.5,507.5 L428.8,500.0 L440.0,520.0 L410.0,525.0 L400.0,517.5"/>
<polygon fill="#2F7FBC" points="422.5,446.2 450.0,457.5 456.2,476.2 448.8,480.0 425.0,463.8"/>
<polygon fill="#2F7FBC" points="448.8,456.2 460.0,455.0 471.2,462.5 480.0,482.5 480.0,487.5 467.5,487.5 457.5,475.0"/>
<polygon fill="#2F7FBC" points="440.0,490.0 450.0,490.0 465.0,515.0 467.5,537.5 457.5,520.0 443.8,495.0"/>
<polygon fill="#BFBFBF" points="478.8,472.5 511.2,488.8 500.0,502.5 480.0,493.8"/>
<polygon fill="#E8F1FA" points="513.8,500.0 517.5,496.2 535.0,502.5 547.5,527.5 535.0,542.5 512.5,527.5 516.2,510.0"/>
<polygon fill="#E8F1FA" points="535.0,542.5 547.5,535.0 560.0,550.0 555.0,555.0"/>
<polygon fill="#2F7FBC" points="530.0,485.0 550.0,497.5 552.5,520.0 545.0,527.5 530.0,500.0"/>
<polygon fill="#5EA5D1" points="550.0,497.5 560.0,500.0 562.5,520.0 560.0,530.0 552.5,520.0"/>
<polygon fill="#5EA5D1" points="555.0,497.5 562.5,515.0 590.0,527.5 572.5,538.8 555.0,530.0"/>
<polygon fill="#2F7FBC" points="560.0,460.0 605.0,460.0 600.0,480.0 597.5,500.0 562.5,490.0"/>
<polygon fill="#CADEF0" points="595.0,515.0 610.0,505.0 630.0,520.0 627.5,535.0 595.0,535.0"/>
<polygon fill="#5EA5D1" stroke="none" points="620.0,482.5 640.0,475.0 640.0,497.5 622.5,492.5"/>
<path fill="none" d="M620.0,482.5 L640.0,475.0 M640.0,497.5 L622.5,492.5 L620.0,482.5"/>
<polyline fill="none" points="458.8,435.0 487.5,448.8"/>
<polyline fill="none" points="497.5,422.5 540.0,437.5 590.0,455.0 640.0,472.5"/>
<polyline fill="none" points="495.0,408.8 497.5,422.5 492.5,435.0 487.5,447.5 477.5,457.5"/>
<polyline fill="none" points="540.0,437.5 532.5,455.0 517.5,472.5"/>
<polyline fill="none" points="547.5,422.5 546.2,436.2"/>
<polyline fill="none" points="477.5,467.5 495.0,463.8 517.5,472.5 530.0,485.0"/>
<polyline fill="none" points="590.0,436.2 585.0,455.0"/>
<polyline fill="none" points="597.5,432.5 640.0,450.0"/>
<polyline fill="none" points="620.0,450.0 615.0,462.5"/>
<polyline fill="none" points="532.5,455.0 550.0,460.0 575.0,462.5"/>
<polyline fill="none" points="560.0,460.0 552.5,487.5 562.5,490.0"/>
<polyline fill="none" points="475.0,508.8 512.5,525.0"/>
<polyline fill="none" points="480.0,493.8 475.0,510.0"/>
<polygon fill="#BFBFBF" points="507.5,536.2 535.0,542.5 555.0,555.0 557.5,572.5 537.5,570.0 517.5,562.5"/>
<polygon fill="#2F7FBC" points="515.0,565.0 537.5,570.0 557.5,572.5 555.0,585.0 535.0,580.0 517.5,572.5"/>
<polygon fill="#5EA5D1" points="555.0,560.0 590.0,565.0 595.0,575.0 587.5,587.5 562.5,590.0 555.0,585.0"/>
<polygon fill="#0D57A1" points="555.0,540.0 575.0,540.0 590.0,545.0 587.5,557.5 555.0,557.5"/>
<polygon fill="#9AC8E0" points="586.2,541.2 600.0,540.0 600.0,555.0 587.5,557.5"/>
<polygon fill="#0D57A1" points="600.0,540.0 615.0,542.5 615.0,560.0 600.0,555.0"/>
<polygon fill="#0D57A1" points="585.0,556.2 615.0,565.0 625.0,575.0 635.0,582.5 620.0,590.0 612.5,592.5 595.0,577.5"/>
<polygon fill="#0D57A1" points="600.0,575.0 620.0,577.5 622.5,590.0 612.5,592.5 605.0,587.5"/>
<polyline fill="none" points="611.9,598.6 611.9,622.4"/>
<polygon fill="#2F7FBC" points="515.5,565.2 536.9,570.0 557.1,573.6 557.1,585.5 542.9,581.9 514.3,572.4"/>
<polygon fill="#5EA5D1" points="557.1,565.2 595.2,565.2 581.0,591.4 557.1,586.7"/>
<polygon fill="#5EA5D1" points="554.8,559.3 588.1,560.5 595.2,566.4 554.8,565.2"/>
<polygon fill="#0D57A1" points="557.1,556.9 564.3,539.0 588.1,541.4 590.5,553.3 588.1,558.1 566.7,559.3"/>
<polygon fill="#9AC8E0" points="588.1,541.4 600.0,541.4 602.4,555.7 588.1,553.3"/>
<polygon fill="#0D57A1" points="600.0,541.4 616.7,541.4 615.5,560.5 602.4,558.1"/>
<polygon fill="#0D57A1" points="585.7,555.7 602.4,560.5 628.6,570.0 635.7,576.0 623.8,579.5 609.5,567.6 597.6,567.6"/>
<polygon fill="#2F7FBC" points="595.2,567.6 609.5,570.0 611.9,579.5 604.8,579.5 597.6,577.1"/>
<polygon fill="#0D57A1" points="600.0,577.1 611.9,572.4 626.2,581.9 621.4,590.2 611.9,593.8 602.4,586.7"/>
<polygon fill="#E8F1FA" stroke="none" points="628.6,520.0 673.8,520.0 685.7,591.4 659.5,586.7 628.6,584.3 616.7,541.4"/>
<path fill="none" d="M673.8,520.0 L685.7,591.4 L659.5,586.7 L628.6,584.3 L616.7,541.4 L628.6,520.0"/>
<polygon fill="#5EA5D1" points="614.3,548.6 640.5,543.8 640.5,560.5 626.2,567.6 614.3,562.9"/>
<polygon fill="#2F7FBC" points="614.3,536.7 638.1,536.7 640.5,543.8 614.3,548.6"/>
<polygon fill="#0D57A1" points="640.5,553.3 652.4,545.0 664.3,553.3 652.4,562.9 645.2,560.5"/>
<polygon fill="#2F7FBC" points="664.3,553.3 676.2,555.7 673.8,561.7 666.7,560.5"/>
<polygon fill="#5EA5D1" points="628.6,571.2 652.4,567.6 659.5,585.5 628.6,584.3"/>
<polygon fill="#9AC8E0" points="653.6,565.2 664.3,558.1 676.2,565.2 669.0,584.3 659.5,585.5"/>
<polygon fill="#BFBFBF" points="628.6,570.0 645.2,561.7 651.2,567.6 638.1,577.1"/>
<polygon fill="#5EA5D1" stroke="none" points="547.6,520.0 564.3,520.0 571.4,533.1 566.7,536.7 552.4,531.9"/>
<path fill="none" d="M564.3,520.0 L571.4,533.1 L566.7,536.7 L552.4,531.9 L547.6,520.0"/>
<polygon fill="#2F7FBC" stroke="none" points="548.8,520.0 566.7,537.9 559.5,548.6 550.0,534.3"/>
<path fill="none" d="M548.8,520.0 L566.7,537.9 L559.5,548.6 L550.0,534.3 L548.8,520.0"/>
<polygon fill="#5EA5D1" points="566.7,527.1 590.5,524.8 592.9,539.0 571.4,534.3"/>
<polygon fill="#CADEF0" stroke="none" points="592.9,520.0 628.6,520.0 628.6,534.3 592.9,534.3"/>
<path fill="none" d="M628.6,520.0 L628.6,534.3 L592.9,534.3 L592.9,520.0"/>
<polygon fill="#E8F1FA" points="533.3,534.3 547.6,529.5 559.5,551.0 542.9,548.6"/>
<polygon fill="#E8F1FA" stroke="none" points="509.5,520.0 542.9,520.0 533.3,541.4 509.5,536.7"/>
<path fill="none" d="M542.9,520.0 L533.3,541.4 L509.5,536.7 L509.5,520.0"/>
<polygon fill="#0D57A1" stroke="none" points="459.5,520.0 500.0,520.0 514.3,531.9 504.8,542.6 471.4,536.7 464.3,531.9"/>
<path fill="none" d="M500.0,520.0 L514.3,531.9 L504.8,542.6 L471.4,536.7 L464.3,531.9 L459.5,520.0"/>
<polygon fill="#BFBFBF" points="506.0,534.3 533.3,543.8 552.4,553.3 557.1,570.0 535.7,567.6 516.7,565.2 509.5,551.0"/>
<polygon fill="#BFBFBF" stroke="none" points="673.8,520.0 720.0,520.0 720.0,603.3 685.7,598.6 671.4,586.7"/>
<path fill="none" d="M720.0,603.3 L685.7,598.6 L671.4,586.7 L673.8,520.0"/>
<polyline fill="none" points="324.2,518.3 324.2,537.5"/>
<polyline fill="none" points="325.0,497.5 325.0,517.5 352.5,517.5 330.0,500.8 325.0,497.5"/>
<polygon fill="#2F7FBC" points="390.8,448.3 406.7,455.8 426.7,460.8 423.3,473.3 416.7,482.5 416.7,492.5 423.3,494.2 430.0,499.2 420.0,507.5 410.0,508.3 400.0,501.7 395.0,493.3 383.3,488.3"/>
<polygon fill="#2F7FBC" points="422.5,445.8 433.3,450.8 448.3,456.7 455.0,470.0 448.3,478.3 427.5,462.5"/>
<polygon fill="#2F7FBC" points="449.2,456.7 460.0,456.7 471.7,465.0 478.3,473.3 479.2,486.7 468.3,487.5 455.0,470.0"/>
<polygon fill="#0D57A1" points="424.2,473.3 427.5,462.5 448.3,478.3 443.3,489.2 438.3,488.3"/>
<polygon fill="#0D57A1" points="443.3,489.2 448.3,478.3 455.0,470.0 468.3,487.5 465.0,496.7 458.3,500.0"/>
<polygon fill="#2F7FBC" points="440.8,489.2 458.3,500.0 465.0,515.0 466.7,536.7 460.0,528.3 451.7,510.0"/>
<polygon fill="#0D57A1" points="458.3,500.0 468.3,487.5 479.2,487.5 476.7,506.7 473.3,533.3 466.7,536.7 465.0,515.0"/>
<polygon fill="#0D57A1" stroke="none" points="476.7,493.3 500.0,500.0 500.0,541.7 473.3,533.3 476.7,506.7"/>
<path fill="none" d="M476.7,493.3 L500.0,500.0 M500.0,541.7 L473.3,533.3 L476.7,506.7 L476.7,493.3"/>
<polygon fill="#9AC8E0" stroke="none" points="342.5,453.3 347.5,440.0 357.5,440.0 359.2,452.5"/>
<path fill="none" d="M342.5,453.3 L347.5,440.0 M357.5,440.0 L359.2,452.5 L342.5,453.3"/>
<polygon fill="#BFBFBF" points="325.0,497.5 325.0,517.5 352.5,517.5"/>
<polygon fill="#CADEF0" stroke="none" points="406.2,250.0 427.5,250.0 428.8,272.5 405.0,271.2"/>
<path fill="none" d="M427.5,250.0 L428.8,272.5 L405.0,271.2 L406.2,250.0"/>
<polygon fill="#9AC8E0" points="405.0,271.2 428.8,272.5 431.2,290.0 415.0,287.5 402.5,295.0 397.5,286.2"/>
<polygon fill="#CADEF0" points="402.5,295.0 415.0,287.5 431.2,290.0 435.0,295.0 425.0,307.5 420.0,316.2 405.0,311.2 403.8,300.0"/>
<polygon fill="#CADEF0" points="380.0,316.2 402.5,297.5 405.0,311.2 396.2,316.2 401.2,323.8 400.0,332.5"/>
<polygon fill="#CADEF0" points="396.2,316.2 405.0,311.2 420.0,316.2 430.0,322.5 425.0,336.2 420.0,341.2 402.5,332.5"/>
<polygon fill="#9AC8E0" points="420.0,316.2 430.0,300.0 437.5,293.8 452.5,313.8 432.5,321.2"/>
<polygon fill="#5EA5D1" points="436.2,292.5 457.5,287.5 453.8,312.5 452.5,313.8"/>
<polygon fill="#9AC8E0" points="457.5,287.5 476.2,286.2 466.2,310.0 453.8,312.5"/>
<polygon fill="#9AC8E0" stroke="none" points="476.2,286.2 480.0,285.0 490.0,285.0 490.0,315.0 466.2,310.0"/>
<path fill="none" d="M476.2,286.2 L480.0,285.0 M490.0,315.0 L466.2,310.0 L476.2,286.2"/>
<polygon fill="#CADEF0" points="453.8,313.8 466.2,310.0 477.5,317.5 476.2,327.5 462.5,338.8"/>
<polygon fill="#5EA5D1" points="420.0,341.2 430.0,322.5 453.8,313.8 463.8,338.8 465.0,350.0 455.0,352.5 452.5,360.0 437.5,360.0 432.5,367.5"/>
<polygon fill="#9AC8E0" stroke="none" points="463.8,338.8 476.2,327.5 490.0,327.5 490.0,355.0 467.5,352.5"/>
<path fill="none" d="M463.8,338.8 L476.2,327.5 L490.0,327.5 M490.0,355.0 L467.5,352.5 L463.8,338.8"/>
<polygon fill="#CADEF0" points="405.0,360.0 417.5,343.8 432.5,357.5 435.0,366.2 420.0,372.5 415.0,370.0"/>
<polygon fill="#E8F1FA" points="388.8,375.0 405.0,358.8 415.0,372.5 417.5,385.0 405.0,385.0 397.5,388.8 391.2,397.5"/>
<polygon fill="#CADEF0" points="416.2,372.5 432.5,367.5 442.5,361.2 447.5,386.2 440.0,388.8 417.5,385.0"/>
<polygon fill="#9AC8E0" stroke="none" points="442.5,352.5 465.0,350.0 467.5,352.5 490.0,355.0 490.0,390.0 472.5,397.5 460.0,397.5 448.8,386.2"/>
<path fill="none" d="M442.5,352.5 L465.0,350.0 L467.5,352.5 L490.0,355.0 M490.0,390.0 L472.5,397.5 L460.0,397.5 L448.8,386.2 L442.5,352.5"/>
<polygon fill="#9AC8E0" points="392.5,390.0 405.0,385.0 415.0,386.2 410.0,392.5 412.5,400.0 405.0,407.5 392.5,400.0"/>
<polygon fill="#9AC8E0" points="410.0,390.0 420.0,385.0 440.0,387.5 447.5,386.2 452.5,393.8 440.0,402.5 420.0,400.0"/>
<polygon fill="#E8F1FA" points="412.5,403.8 440.0,401.2 460.0,397.5 465.0,408.8 462.5,432.5 420.0,415.0"/>
<polygon fill="#0D57A1" stroke="none" points="460.0,397.5 490.0,392.5 490.0,490.0 457.5,487.5 460.0,455.0 462.5,432.5 465.0,408.8"/>
<path fill="none" d="M460.0,397.5 L490.0,392.5 M490.0,490.0 L457.5,487.5 L460.0,455.0 L462.5,432.5 L465.0,408.8 L460.0,397.5"/>
<polygon fill="#5EA5D1" points="382.5,416.2 390.0,402.5 410.0,406.2 392.5,430.0"/>
<polygon fill="#E8F1FA" points="392.5,430.0 402.5,422.5 415.0,410.0 420.0,425.0 417.5,440.0 412.5,442.5"/>
<polygon fill="#2F7FBC" points="291.2,377.5 311.2,355.0 338.8,375.0 327.5,386.2 308.8,396.2"/>
<polygon fill="#CADEF0" points="255.0,413.8 290.0,377.5 308.8,396.2 285.0,410.0 283.8,426.2 272.5,426.2"/>
<polygon fill="#CADEF0" points="285.0,410.0 308.8,397.5 318.8,412.5 312.5,427.5 283.8,426.2"/>
<polygon fill="#5EA5D1" points="308.8,397.5 327.5,386.2 336.2,405.0 318.8,413.8"/>
<polygon fill="#5EA5D1" points="327.5,386.2 338.8,375.0 365.0,381.2 366.2,403.8 350.0,402.5 336.2,405.0"/>
<polygon fill="#5EA5D1" points="365.0,381.2 387.5,400.0 382.5,420.0 375.0,411.2 366.2,403.8"/>
<polygon fill="#9AC8E0" points="336.2,406.2 350.0,402.5 356.2,410.0 358.8,452.5 345.0,456.2 343.8,447.5 342.5,425.0"/>
<polygon fill="#2F7FBC" stroke="none" points="390.0,447.5 425.0,460.0 417.5,490.0 383.8,490.0"/>
<path fill="none" d="M390.0,447.5 L425.0,460.0 L417.5,490.0 M383.8,490.0 L390.0,447.5"/>
<polygon fill="#2F7FBC" points="422.5,446.2 447.5,455.0 455.0,470.0 450.0,480.0 430.0,465.0"/>
<polygon fill="#0D57A1" stroke="none" points="425.0,462.5 447.5,480.0 442.5,490.0 425.0,490.0 418.8,475.0"/>
<path fill="none" d="M425.0,462.5 L447.5,480.0 L442.5,490.0 M425.0,490.0 L418.8,475.0 L425.0,462.5"/>
<polygon fill="#2F7FBC" stroke="none" points="450.0,455.0 460.0,455.0 490.0,457.5 490.0,490.0 457.5,487.5"/>
<path fill="none" d="M450.0,455.0 L460.0,455.0 L490.0,457.5 M490.0,490.0 L457.5,487.5 L450.0,455.0"/>
<polyline fill="none" points="311.2,355.0 315.0,346.2 327.5,342.5 357.5,335.0 380.0,316.2 400.0,297.5"/>
<polyline fill="none" points="338.8,375.0 365.0,380.0 390.0,400.0"/>
<polyline fill="none" points="380.0,316.2 390.0,325.0 401.2,332.5 418.8,342.5"/>
<polygon fill="#2F7FBC" stroke="none" points="597.5,270.0 630.0,270.0 638.8,277.5 655.0,293.8 645.0,307.5 640.0,313.8 627.5,316.2 620.0,322.5 612.5,315.0 596.2,310.0 595.0,295.0 597.5,280.0"/>
<path fill="none" d="M630.0,270.0 L638.8,277.5 L655.0,293.8 L645.0,307.5 L640.0,313.8 L627.5,316.2 L620.0,322.5 L612.5,315.0 L596.2,310.0 L595.0,295.0 L597.5,280.0 L597.5,270.0"/>
<polygon fill="#0D57A1" points="620.0,322.5 640.0,312.5 642.5,318.8 633.8,335.0 628.8,342.5 620.0,337.5"/>
<polygon fill="#2F7FBC" points="640.0,313.8 655.0,293.8 661.2,305.0 665.0,320.0 642.5,318.8"/>
<polygon fill="#BFBFBF" points="655.0,293.8 660.0,291.2 678.8,282.5 680.0,305.0 672.5,313.8 665.0,320.0 661.2,305.0"/>
<polygon fill="#2F7FBC" points="678.8,282.5 700.0,285.0 701.2,320.0 675.0,321.2 672.5,313.8"/>
<polygon fill="#0D57A1" points="700.0,285.0 740.0,293.8 746.2,300.0 747.5,315.0 730.0,317.5 701.2,320.0"/>
<polygon fill="#BFBFBF" points="701.2,320.0 726.2,316.2 735.0,326.2 727.5,332.5 707.5,337.5 703.8,330.0"/>
<polygon fill="#CADEF0" points="726.2,316.2 747.5,315.0 747.5,337.5 730.0,333.8 727.5,326.2"/>
<polygon fill="#2F7FBC" points="632.5,320.0 642.5,318.8 665.0,320.0 666.2,341.2 655.0,341.2 632.5,335.0"/>
<polygon fill="#2F7FBC" points="665.0,320.0 675.0,321.2 680.0,340.0 666.2,341.2"/>
<polygon fill="#5EA5D1" points="675.0,321.2 701.2,320.0 707.5,337.5 680.0,340.0"/>
<polygon fill="#2F7FBC" points="600.0,363.8 617.5,357.5 622.5,345.0 660.0,352.5 655.0,380.0 651.2,406.2 640.0,397.5 636.2,387.5 622.5,380.0 600.0,377.5"/>
<polygon fill="#2F7FBC" points="628.8,342.5 633.8,335.0 655.0,341.2 666.2,341.2 680.0,340.0 682.5,357.5 660.0,352.5 622.5,345.0"/>
<polygon fill="#2F7FBC" points="666.2,341.2 680.0,340.0 707.5,337.5 702.5,352.5 697.5,375.0 683.8,357.5"/>
<polygon fill="#9AC8E0" points="660.0,352.5 683.8,357.5 675.0,380.0 670.0,405.0 652.5,402.5 655.0,380.0"/>
<polygon fill="#5EA5D1" points="683.8,357.5 697.5,375.0 702.5,402.5 670.0,405.0 675.0,380.0"/>
<polygon fill="#2F7FBC" points="707.5,337.5 746.2,337.5 740.0,370.0 730.0,375.0 715.0,380.0 697.5,375.0 702.5,352.5"/>
<polygon fill="#5EA5D1" points="746.2,337.5 782.5,345.0 788.8,352.5 787.5,377.5 762.5,385.0 750.0,380.0 740.0,370.0"/>
<polygon fill="#9AC8E0" points="715.0,380.0 730.0,375.0 740.0,370.0 750.0,380.0 735.0,400.0 725.0,390.0"/>
<polygon fill="#2F7FBC" points="697.5,375.0 715.0,380.0 725.0,390.0 735.0,400.0 732.5,406.2 705.0,406.2 702.5,402.5"/>
<polygon fill="#CADEF0" points="735.0,400.0 750.0,380.0 762.5,385.0 767.5,412.5 755.0,411.2 740.0,412.5 732.5,406.2"/>
<polygon fill="#2F7FBC" points="755.0,388.8 782.5,382.5 796.2,420.0 780.0,430.0 772.5,417.5 767.5,412.5"/>
<polygon fill="#BFBFBF" stroke="none" points="782.5,360.0 820.0,355.0 820.0,417.5 797.5,420.0 788.8,395.0"/>
<path fill="none" d="M782.5,360.0 L820.0,355.0 M820.0,417.5 L797.5,420.0 L788.8,395.0 L782.5,360.0"/>
<polygon fill="#CADEF0" points="750.0,293.8 762.5,291.2 777.5,310.0 776.2,320.0 750.0,330.0"/>
<polygon fill="#E8F1FA" points="750.0,330.0 777.5,310.0 787.5,313.8 788.8,330.0 775.0,341.2 755.0,335.0"/>
<polygon fill="#E8F1FA" points="788.8,315.0 812.5,312.5 802.5,330.0 790.0,330.0"/>
<polygon fill="#CADEF0" points="776.2,337.5 787.5,330.0 796.2,337.5 785.0,347.5"/>
<polygon fill="#9AC8E0" stroke="none" points="785.0,347.5 812.5,315.0 820.0,310.0 820.0,357.5 800.0,357.5"/>
<path fill="none" d="M785.0,347.5 L812.5,315.0 L820.0,310.0 M820.0,357.5 L800.0,357.5 L785.0,347.5"/>
<polygon fill="#CADEF0" stroke="none" points="760.0,285.0 795.0,270.0 800.0,287.5 795.0,305.0 765.0,292.5"/>
<path fill="none" d="M760.0,285.0 L795.0,270.0 L800.0,287.5 L795.0,305.0 L765.0,292.5 L760.0,285.0"/>
<polygon fill="#9AC8E0" stroke="none" points="762.5,270.0 795.0,270.0 785.0,295.0 760.0,285.0"/>
<path fill="none" d="M795.0,270.0 L785.0,295.0 L760.0,285.0 L762.5,270.0"/>
<polygon fill="#CADEF0" stroke="none" points="795.0,270.0 817.5,270.0 812.5,302.5 802.5,305.0 795.0,292.5"/>
<path fill="none" d="M817.5,270.0 L812.5,302.5 L802.5,305.0 L795.0,292.5 L795.0,270.0"/>
<polygon fill="#9AC8E0" stroke="none" points="810.0,272.5 820.0,270.0 820.0,310.0 800.0,312.5"/>
<path fill="none" d="M810.0,272.5 L820.0,270.0 M820.0,310.0 L800.0,312.5 L810.0,272.5"/>
<polygon fill="#5EA5D1" stroke="none" points="730.0,270.0 762.5,270.0 758.8,285.0 740.0,292.5 730.0,290.0"/>
<path fill="none" d="M762.5,270.0 L758.8,285.0 L740.0,292.5 L730.0,290.0 L730.0,270.0"/>
<polygon fill="#0D57A1" stroke="none" points="580.0,420.0 597.5,415.0 620.0,412.5 646.2,415.0 652.5,442.5 655.0,452.5 637.5,475.0 620.0,490.0 597.5,485.0 592.5,470.0 580.0,465.0"/>
<path fill="none" d="M580.0,420.0 L597.5,415.0 L620.0,412.5 L646.2,415.0 L652.5,442.5 L655.0,452.5 L637.5,475.0 L620.0,490.0 L597.5,485.0 L592.5,470.0 L580.0,465.0"/>
<polyline fill="none" points="587.5,445.0 617.5,450.0 655.0,445.0"/>
<polyline fill="none" points="580.0,460.0 640.0,472.5"/>
<polyline fill="none" points="597.5,415.0 590.0,432.5 587.5,445.0 595.0,460.0"/>
<polyline fill="none" points="617.5,450.0 622.5,462.5 617.5,470.0"/>
<polygon fill="#2F7FBC" stroke="none" points="580.0,465.0 595.0,460.0 597.5,485.0 622.5,490.0 605.0,510.0 580.0,510.0"/>
<path fill="none" d="M580.0,465.0 L595.0,460.0 L597.5,485.0 L622.5,490.0 L605.0,510.0"/>
<polygon fill="#2F7FBC" points="646.2,407.5 670.0,405.0 670.0,420.0 655.0,430.0 647.5,425.0"/>
<polygon fill="#0D57A1" points="670.0,406.2 687.5,406.2 685.0,415.0 680.0,417.5 670.0,422.5"/>
<polygon fill="#0D57A1" points="680.0,417.5 690.0,420.0 693.8,433.8 686.2,436.2 681.2,425.0"/>
<polygon fill="#2F7FBC" points="687.5,407.5 707.5,407.5 710.0,430.0 695.0,430.0 693.8,420.0 686.2,415.0"/>
<polygon fill="#9AC8E0" points="705.0,406.2 732.5,406.2 731.2,420.0 720.0,425.0 710.0,420.0"/>
<polygon fill="#5EA5D1" points="647.5,425.0 655.0,430.0 670.0,422.5 681.2,425.0 686.2,436.2 693.8,432.5 710.0,430.0 710.0,442.5 685.0,442.5 655.0,442.5"/>
<polygon fill="#5EA5D1" points="655.0,442.5 710.0,440.0 722.5,445.0 705.0,467.5 682.5,470.0 667.5,467.5 655.0,455.0"/>
<polygon fill="#5EA5D1" points="710.0,420.0 720.0,425.0 731.2,420.0 730.0,442.5 722.5,445.0 710.0,442.5"/>
<polygon fill="#5EA5D1" points="731.2,420.0 752.5,417.5 755.0,437.5 730.0,445.0"/>
<polygon fill="#9AC8E0" points="752.5,417.5 772.5,417.5 780.0,430.0 760.0,435.0"/>
<polygon fill="#5EA5D1" points="755.0,437.5 780.0,431.2 783.8,460.0 760.0,462.5"/>
<polygon fill="#BFBFBF" points="730.0,445.0 755.0,437.5 760.0,462.5 742.5,465.0"/>
<polygon fill="#E8F1FA" stroke="none" points="780.0,431.2 797.5,420.0 820.0,442.5 820.0,452.5 785.0,457.5"/>
<path fill="none" d="M780.0,431.2 L797.5,420.0 L820.0,442.5 M820.0,452.5 L785.0,457.5 L780.0,431.2"/>
<polygon fill="#9AC8E0" stroke="none" points="797.5,420.0 820.0,417.5 820.0,442.5"/>
<path fill="none" d="M797.5,420.0 L820.0,417.5 M820.0,442.5 L797.5,420.0"/>
<polygon fill="#5EA5D1" stroke="none" points="785.0,457.5 820.0,452.5 820.0,490.0 792.5,490.0"/>
<path fill="none" d="M785.0,457.5 L820.0,452.5 M820.0,490.0 L792.5,490.0 L785.0,457.5"/>
<polygon fill="#CADEF0" points="742.5,465.0 760.0,462.5 785.0,460.0 787.5,490.0 775.0,502.5 742.5,500.0"/>
<polygon fill="#5EA5D1" points="722.5,445.0 730.0,445.0 742.5,465.0 740.0,470.0 730.0,485.0 727.5,470.0"/>
<polygon fill="#2F7FBC" points="730.0,470.0 742.5,467.5 742.5,485.0 730.0,487.5"/>
<polygon fill="#BFBFBF" points="707.5,472.5 722.5,467.5 727.5,487.5 715.0,490.0"/>
<polygon fill="#E8F1FA" points="720.0,492.5 742.5,485.0 745.0,500.0 727.5,507.5"/>
<polygon fill="#5EA5D1" points="655.0,457.5 667.5,467.5 682.5,470.0 705.0,467.5 707.5,472.5 695.0,480.0 677.5,487.5 662.5,490.0 642.5,482.5"/>
<polygon fill="#9AC8E0" points="692.5,477.5 707.5,472.5 715.0,490.0 707.5,502.5 695.0,495.0"/>
<polyline fill="none" points="135.2,384.6 142.7,393.6 153.1,398.0 163.5,402.5 171.0,405.5 169.5,412.9 179.9,423.3 194.8,435.2 209.6,445.7"/>
<polyline fill="none" points="209.6,445.7 230.5,439.7 236.4,418.9 257.3,414.4"/>
<polyline fill="none" points="230.5,439.7 266.2,439.7 272.1,427.8"/>
<polyline fill="none" points="132.3,384.6 96.5,497.7 102.5,499.2 93.6,518.6 95.1,539.4 117.4,545.4 132.3,545.4 133.8,537.9 156.1,539.4"/>
<polyline fill="none" points="156.1,418.9 118.9,462.0"/>
<polyline fill="none" points="156.1,418.9 202.2,459.0"/>
<polyline fill="none" points="138.2,441.2 182.9,479.9"/>
<polyline fill="none" points="118.9,462.0 194.8,496.2"/>
<polyline fill="none" points="209.6,445.7 202.2,459.0 182.9,479.9"/>
<polyline fill="none" points="202.2,460.5 239.4,459.0 284.0,459.0 328.7,460.5 346.5,457.6 389.7,448.6"/>
<polyline fill="none" points="240.9,441.2 284.0,441.2 313.8,444.2 346.5,438.2"/>
<polyline fill="none" points="205.2,496.2 245.4,491.8 275.1,478.4 287.0,476.9 319.8,479.9 362.9,485.8 383.8,488.8"/>
<polyline fill="none" points="239.4,459.0 239.4,491.8"/>
<polyline fill="none" points="284.0,441.2 284.0,479.9"/>
<polyline fill="none" points="345.1,456.1 345.1,479.9"/>
<polyline fill="none" points="318.3,414.4 313.8,444.2"/>
<polyline fill="none" points="362.9,485.8 367.4,512.6"/>
<polyline fill="none" points="319.8,481.4 319.8,494.8"/>
<polyline fill="none" points="205.2,496.2 212.6,518.6 227.5,530.5"/>
<polygon fill="#BFBFBF" stroke="none" points="740.0,300.0 900.0,300.0 900.0,460.0 740.0,460.0"/>
<polygon fill="#0D57A1" stroke="none" points="740.0,300.0 747.5,300.0 747.5,315.0 740.0,315.0"/>
<path fill="none" d="M747.5,300.0 L747.5,315.0 L740.0,315.0"/>
<polygon fill="#CADEF0" stroke="none" points="748.3,300.0 771.7,300.0 778.3,309.2 776.7,313.3 780.0,315.8 780.0,320.0 769.2,322.5 767.5,327.5 760.0,326.7 757.5,330.8 748.3,330.0"/>
<path fill="none" d="M771.7,300.0 L778.3,309.2 L776.7,313.3 L780.0,315.8 L780.0,320.0 L769.2,322.5 L767.5,327.5 L760.0,326.7 L757.5,330.8 L748.3,330.0 L748.3,300.0"/>
<polygon fill="#CADEF0" stroke="none" points="740.0,315.0 747.5,315.0 748.3,330.0 746.7,338.3 740.0,338.3"/>
<path fill="none" d="M740.0,315.0 L747.5,315.0 L748.3,330.0 L746.7,338.3 L740.0,338.3"/>
<polygon fill="#CADEF0" stroke="none" points="771.7,300.0 800.0,300.0 802.5,306.7 799.2,314.2 788.3,313.3 778.3,309.2"/>
<path fill="none" d="M800.0,300.0 L802.5,306.7 L799.2,314.2 L788.3,313.3 L778.3,309.2 L771.7,300.0"/>
<polygon fill="#CADEF0" stroke="none" points="799.2,300.0 810.0,300.0 802.5,306.7"/>
<path fill="none" d="M810.0,300.0 L802.5,306.7 L799.2,300.0"/>
<polygon fill="#9AC8E0" stroke="none" points="810.0,300.0 821.7,300.0 820.0,311.7 800.0,314.2 802.5,306.7"/>
<path fill="none" d="M821.7,300.0 L820.0,311.7 L800.0,314.2 L802.5,306.7 L810.0,300.0"/>
<polygon fill="#E8F1FA" points="778.3,310.0 788.3,313.3 789.2,330.0 783.3,330.8 773.3,343.3 748.3,339.2 749.2,330.8 757.5,330.8 760.0,326.7 767.5,327.5 769.2,322.5 780.0,320.0 780.0,315.8 776.7,313.3"/>
<polygon fill="#E8F1FA" points="789.2,313.3 799.2,314.2 815.0,313.3 813.3,320.8 796.7,337.5 790.0,330.0"/>
<polygon fill="#CADEF0" points="773.3,343.3 783.3,330.8 790.0,330.0 796.7,337.5 785.0,350.0"/>
<polygon fill="#9AC8E0" points="785.0,350.0 815.0,319.2 820.0,312.5 820.8,321.7 812.5,335.0 808.3,343.3 796.7,358.3 790.0,359.2 789.2,354.2"/>
<polygon fill="#5EA5D1" stroke="none" points="740.0,358.3 746.7,340.0 773.3,344.2 785.0,350.0 750.0,381.7 745.0,370.0"/>
<path fill="none" d="M740.0,358.3 L746.7,340.0 L773.3,344.2 L785.0,350.0 L750.0,381.7 L745.0,370.0 L740.0,358.3"/>
<polygon fill="#5EA5D1" points="750.0,381.7 785.0,350.0 789.2,355.0 790.0,363.3 785.0,383.3 766.7,385.0 755.0,386.7"/>
<polygon fill="#2F7FBC" points="755.0,386.7 766.7,385.0 781.7,383.3 783.3,396.7 786.7,413.3 796.7,420.0 789.2,428.3 780.0,431.7 773.3,420.0 761.7,403.3"/>
<polygon fill="#CADEF0" stroke="none" points="740.0,386.7 747.5,385.0 755.0,386.7 761.7,403.3 766.7,413.3 756.7,405.0 747.5,404.2 740.0,408.3"/>
<path fill="none" d="M740.0,386.7 L747.5,385.0 L755.0,386.7 L761.7,403.3 L766.7,413.3 L756.7,405.0 L747.5,404.2 L740.0,408.3"/>
<polygon fill="#9AC8E0" stroke="none" points="740.0,371.7 745.0,370.0 750.0,381.7 740.0,386.7"/>
<path fill="none" d="M740.0,371.7 L745.0,370.0 L750.0,381.7 L740.0,386.7"/>
<polygon fill="#5EA5D1" stroke="none" points="740.0,338.3 746.7,338.3 740.0,358.3"/>
<path fill="none" d="M740.0,338.3 L746.7,338.3 L740.0,358.3"/>
<polygon fill="#9AC8E0" points="746.7,416.7 765.0,411.7 773.3,420.0 780.0,431.7 755.0,436.7 750.0,421.7"/>
<polygon fill="#5EA5D1" stroke="none" points="740.0,423.3 750.0,421.7 755.0,436.7 740.0,440.0"/>
<path fill="none" d="M740.0,423.3 L750.0,421.7 L755.0,436.7 L740.0,440.0"/>
<polygon fill="#5EA5D1" stroke="none" points="755.0,436.7 780.0,431.7 785.0,460.0 756.7,460.0"/>
<path fill="none" d="M755.0,436.7 L780.0,431.7 L785.0,460.0 M756.7,460.0 L755.0,436.7"/>
<polygon fill="#E8F1FA" points="780.0,431.7 797.5,421.7 821.7,445.0 821.7,450.8 785.0,456.7"/>
<polygon fill="#9AC8E0" points="797.5,421.7 803.3,415.0 828.3,416.7 853.3,405.0 856.7,433.3 821.7,450.0 821.7,445.0"/>
<polygon fill="#5EA5D1" stroke="none" points="785.0,456.7 821.7,450.8 821.7,460.0 785.0,460.0"/>
<path fill="none" d="M785.0,456.7 L821.7,450.8 L821.7,460.0 M785.0,460.0 L785.0,456.7"/>
<polygon fill="#2F7FBC" stroke="none" points="821.7,450.8 856.7,435.8 876.7,441.7 875.0,460.0 821.7,460.0"/>
<path fill="none" d="M821.7,450.8 L856.7,435.8 L876.7,441.7 L875.0,460.0 M821.7,460.0 L821.7,450.8"/>
<polygon fill="#2F7FBC" stroke="none" points="856.7,435.8 875.0,426.7 900.0,426.7 900.0,460.0 876.7,460.0 876.7,441.7"/>
<path fill="none" d="M856.7,435.8 L875.0,426.7 L900.0,426.7 M876.7,460.0 L876.7,441.7 L856.7,435.8"/>
<polyline fill="none" points="876.7,457.5 900.0,456.7"/>
<polygon fill="#9AC8E0" stroke="none" points="853.3,405.0 873.3,395.0 900.0,416.7 900.0,426.7 875.0,426.7 856.7,433.3"/>
<path fill="none" d="M853.3,405.0 L873.3,395.0 L900.0,416.7 M900.0,426.7 L875.0,426.7 L856.7,433.3 L853.3,405.0"/>
<polygon fill="#9AC8E0" stroke="none" points="873.3,395.0 886.7,363.3 900.0,361.7 900.0,416.7"/>
<path fill="none" d="M873.3,395.0 L886.7,363.3 L900.0,361.7 M900.0,416.7 L873.3,395.0"/>
<polygon fill="#CADEF0" stroke="none" points="886.7,325.0 895.0,323.3 900.0,325.0 900.0,361.7 886.7,363.3"/>
<path fill="none" d="M886.7,325.0 L895.0,323.3 L900.0,325.0 M900.0,361.7 L886.7,363.3 L886.7,325.0"/>
<polygon fill="#CADEF0" stroke="none" points="891.7,320.0 900.0,308.3 900.0,325.0"/>
<path fill="none" d="M891.7,320.0 L900.0,308.3 M900.0,325.0 L891.7,320.0"/>
<polyline fill="none" points="740.0,408.3 747.5,404.2 756.7,405.0 765.0,410.8 747.5,415.0 740.0,416.7"/>
<polyline fill="none" points="796.7,358.3 808.3,343.3 820.0,321.7 821.7,313.3 831.7,322.5 848.3,310.8 846.7,300.0"/>
<polyline fill="none" points="900.0,306.7 890.0,323.3 886.7,326.7 886.7,363.3 873.3,395.0 841.7,406.7 830.0,416.7 805.0,416.7 797.5,421.7 786.7,413.3 783.3,396.7 781.7,388.3 790.0,363.3 790.0,359.2 796.7,358.3"/>
<polyline fill="none" points="821.7,313.3 831.7,323.3 850.0,310.0 859.2,315.0 888.3,323.3"/>
<polyline fill="none" points="858.3,315.0 860.0,331.7 871.7,345.0 886.7,348.3"/>
<polyline fill="none" points="871.7,345.0 853.3,386.7 841.7,405.0 848.3,408.3"/>
<polyline fill="none" points="796.7,358.3 820.0,356.7 813.3,371.7 804.2,390.0 803.3,400.0 803.3,416.7"/>
<polyline fill="none" points="831.7,322.5 820.8,355.0 823.3,355.8 833.3,346.7 845.0,313.3"/>
<polyline fill="none" points="791.7,395.0 795.8,380.0 808.3,373.3 811.7,371.7 804.2,396.7 795.0,396.7 791.7,395.0"/>
<polygon fill="#BFBFBF" stroke="none" points="440.0,280.0 620.0,280.0 620.0,460.0 440.0,460.0"/>
<polygon fill="#5EA5D1" stroke="none" points="440.0,293.1 457.8,288.4 454.1,302.5 453.1,310.9 450.3,314.7 447.5,303.4 440.0,299.7"/>
<path fill="none" d="M440.0,293.1 L457.8,288.4 L454.1,302.5 L453.1,310.9 L450.3,314.7 L447.5,303.4 L440.0,299.7"/>
<polygon fill="#9AC8E0" points="457.8,288.4 474.7,287.5 467.2,304.4 466.2,310.0 460.6,310.0 454.1,310.0 454.1,300.6"/>
<polygon fill="#9AC8E0" points="474.7,287.5 485.0,287.5 484.1,302.5 477.5,308.1 473.8,314.7 467.2,310.0"/>
<polygon fill="#CADEF0" points="453.1,314.7 466.2,310.0 476.6,320.3 474.7,328.8 462.5,338.1 458.8,336.2"/>
<polygon fill="#CADEF0" points="474.7,314.7 484.1,302.5 494.4,334.4 487.8,338.1 476.6,326.9"/>
<polygon fill="#9AC8E0" points="460.6,340.0 476.6,328.8 485.0,332.5 488.8,338.1 495.3,335.3 498.1,351.2 468.1,355.0"/>
<polygon fill="#5EA5D1" stroke="none" points="440.0,318.4 451.2,314.7 458.8,336.2 465.3,350.3 454.1,351.2 453.1,358.8 440.0,360.6"/>
<path fill="none" d="M440.0,318.4 L451.2,314.7 L458.8,336.2 L465.3,350.3 L454.1,351.2 L453.1,358.8 L440.0,360.6"/>
<polygon fill="#9AC8E0" points="466.2,355.0 498.1,351.2 500.0,358.8 507.5,371.9 528.1,390.6 516.9,392.5 520.6,401.9 505.6,409.4 494.4,409.4 473.8,392.5 468.1,373.8"/>
<polygon fill="#9AC8E0" points="441.9,364.4 454.1,351.2 465.3,350.3 468.1,373.8 473.8,392.5 449.4,398.1 441.9,385.0"/>
<polygon fill="#CADEF0" stroke="none" points="440.0,371.9 441.9,364.4 449.4,398.1 440.0,400.0"/>
<path fill="none" d="M440.0,371.9 L441.9,364.4 L449.4,398.1 L440.0,400.0"/>
<polygon fill="#E8F1FA" stroke="none" points="440.0,400.0 456.9,398.1 464.4,407.5 458.8,415.0 461.6,431.9 445.6,422.5 440.0,420.6"/>
<path fill="none" d="M440.0,400.0 L456.9,398.1 L464.4,407.5 L458.8,415.0 L461.6,431.9 L445.6,422.5 L440.0,420.6"/>
<polygon fill="#0D57A1" stroke="none" points="456.9,398.1 474.7,393.4 494.4,409.4 505.6,409.4 520.6,401.9 516.9,392.5 528.1,390.6 539.4,391.6 561.9,411.2 573.1,411.2 597.5,426.2 605.0,413.1 620.0,411.2 620.0,460.0 440.0,460.0 440.0,445.0 458.8,435.6 461.6,431.9 458.8,415.0 464.4,407.5"/>
<path fill="none" d="M456.9,398.1 L474.7,393.4 L494.4,409.4 L505.6,409.4 L520.6,401.9 L516.9,392.5 L528.1,390.6 L539.4,391.6 L561.9,411.2 L573.1,411.2 L597.5,426.2 L605.0,413.1 L620.0,411.2 M440.0,445.0 L458.8,435.6 L461.6,431.9 L458.8,415.0 L464.4,407.5 L456.9,398.1"/>
<polyline fill="none" points="496.2,420.6 541.2,437.5 582.5,456.2"/>
<polyline fill="none" points="541.2,437.5 530.0,460.0"/>
<polyline fill="none" points="546.9,437.5 546.9,424.4 567.5,418.8"/>
<polyline fill="none" points="494.4,409.4 496.2,420.6 488.8,448.8 477.5,460.0"/>
<polyline fill="none" points="458.8,433.8 486.9,448.8"/>
<polyline fill="none" points="593.8,430.0 586.2,460.0"/>
<polyline fill="none" points="595.6,435.6 620.0,446.9"/>
<polyline fill="none" points="485.0,280.0 485.0,287.5 494.4,334.4 500.0,358.8 507.5,371.9 528.1,390.6 539.4,391.6 561.9,411.2 573.1,411.2 597.5,426.2 605.0,413.1 620.0,411.2"/>
<polygon fill="#2F7FBC" stroke="none" points="599.4,280.0 620.0,280.0 620.0,315.6 612.5,315.6 597.5,311.9 600.3,295.0 594.7,294.1"/>
<path fill="none" d="M620.0,315.6 L612.5,315.6 L597.5,311.9 L600.3,295.0 L594.7,294.1 L599.4,280.0"/>
<polygon fill="#2F7FBC" stroke="none" points="599.4,377.5 603.1,358.8 620.0,355.0 620.0,383.1 608.8,383.1"/>
<path fill="none" d="M599.4,377.5 L603.1,358.8 L620.0,355.0 M620.0,383.1 L608.8,383.1 L599.4,377.5"/>
<polyline fill="none" points="440.0,422.5 458.8,433.8 440.0,445.0"/>
<polygon fill="#BFBFBF" stroke="none" points="580.0,470.0 740.0,470.0 740.0,565.0 735.0,575.0 725.0,586.7 718.3,593.3 708.3,600.0 708.3,606.7 703.3,603.3 688.3,598.3 685.0,596.7 684.2,615.0 680.0,613.3 679.2,603.3 670.0,613.3 666.7,603.3 660.0,600.0 643.3,598.3 621.7,598.3 613.3,603.3 613.3,606.7 580.0,601.7"/>
<path fill="none" d="M740.0,565.0 L735.0,575.0 L725.0,586.7 L718.3,593.3 L708.3,600.0 L708.3,606.7 L703.3,603.3 L688.3,598.3 L685.0,596.7 L684.2,615.0 L680.0,613.3 L679.2,603.3 L670.0,613.3 L666.7,603.3 L660.0,600.0 L643.3,598.3 L621.7,598.3 L613.3,603.3 L613.3,606.7 L580.0,601.7"/>
<polygon fill="#2F7FBC" stroke="none" points="580.0,470.0 601.7,470.0 595.8,483.3 596.7,493.3 603.3,500.0 590.0,501.7 580.0,500.8"/>
<path fill="none" d="M601.7,470.0 L595.8,483.3 L596.7,493.3 L603.3,500.0 L590.0,501.7 L580.0,500.8"/>
<polygon fill="#0D57A1" stroke="none" points="601.7,470.0 640.0,470.0 630.0,480.0 621.7,485.8 620.0,493.3 623.3,498.3 610.0,503.3 603.3,500.0 596.7,493.3 595.8,483.3"/>
<path fill="none" d="M640.0,470.0 L630.0,480.0 L621.7,485.8 L620.0,493.3 L623.3,498.3 L610.0,503.3 L603.3,500.0 L596.7,493.3 L595.8,483.3 L601.7,470.0"/>
<polygon fill="#0D57A1" stroke="none" points="580.0,500.8 590.0,501.7 603.3,500.0 610.0,503.3 595.0,510.0 593.3,523.3 580.0,524.2"/>
<path fill="none" d="M580.0,500.8 L590.0,501.7 L603.3,500.0 L610.0,503.3 L595.0,510.0 L593.3,523.3 L580.0,524.2"/>
<polygon fill="#5EA5D1" points="620.8,486.7 630.0,483.3 636.7,490.0 635.0,496.7 625.0,497.5"/>
<polygon fill="#5EA5D1" points="628.3,480.0 641.7,473.3 644.2,481.7 643.3,490.0 636.7,490.8"/>
<polygon fill="#5EA5D1" stroke="none" points="641.7,470.0 695.0,470.0 680.0,480.0 666.7,486.7 663.3,491.7 655.0,490.0 646.7,481.7"/>
<path fill="none" d="M695.0,470.0 L680.0,480.0 L666.7,486.7 L663.3,491.7 L655.0,490.0 L646.7,481.7 L641.7,470.0"/>
<polygon fill="#5EA5D1" points="666.7,486.7 680.0,480.0 695.0,475.0 690.0,485.0 678.3,501.7 670.0,491.7"/>
<polygon fill="#5EA5D1" stroke="none" points="695.0,470.0 711.7,470.0 703.3,480.0 696.7,476.7"/>
<path fill="none" d="M711.7,470.0 L703.3,480.0 L696.7,476.7 L695.0,470.0"/>
<polygon fill="#9AC8E0" points="695.0,476.7 703.3,480.0 715.0,495.0 713.3,501.7 706.7,503.3 693.3,495.0 690.0,485.8"/>
<polygon fill="#BFBFBF" stroke="none" points="705.0,480.0 713.3,470.0 726.7,470.0 730.0,488.3 716.7,493.3"/>
<path fill="none" d="M705.0,480.0 L713.3,470.0 M726.7,470.0 L730.0,488.3 L716.7,493.3 L705.0,480.0"/>
<polygon fill="#2F7FBC" stroke="none" points="728.3,476.7 740.0,470.0 740.0,486.7 731.7,488.3"/>
<path fill="none" d="M728.3,476.7 L740.0,470.0 M740.0,486.7 L731.7,488.3 L728.3,476.7"/>
<polygon fill="#E8F1FA" stroke="none" points="716.7,495.0 740.0,486.7 740.0,501.7 723.3,507.5"/>
<path fill="none" d="M716.7,495.0 L740.0,486.7 M740.0,501.7 L723.3,507.5 L716.7,495.0"/>
<polygon fill="#9AC8E0" stroke="none" points="718.3,511.7 740.0,501.7 740.0,530.0 718.3,531.7"/>
<path fill="none" d="M718.3,511.7 L740.0,501.7 M740.0,530.0 L718.3,531.7 L718.3,511.7"/>
<polygon fill="#2F7FBC" points="681.7,501.7 690.0,491.7 696.7,498.3 695.0,505.0 686.7,508.3"/>
<polygon fill="#CADEF0" points="678.3,501.7 690.0,485.0 693.3,486.7 681.7,503.3"/>
<polygon fill="#CADEF0" points="593.3,510.0 610.0,503.3 623.3,498.3 635.0,496.7 643.3,490.0 655.0,490.0 663.3,491.7 670.0,491.7 678.3,501.7 681.7,503.3 686.7,508.3 695.0,505.0 700.0,511.7 700.0,520.0 686.7,526.7 678.3,525.0 673.3,531.7 676.7,550.0 680.0,556.7 673.3,563.3 666.7,566.7 661.7,570.0 653.3,563.3 640.0,548.3 630.0,536.7 616.7,536.7 593.3,533.3"/>
<polygon fill="#E8F1FA" points="626.7,520.0 636.7,518.3 650.0,513.3 660.0,520.0 663.3,526.7 673.3,531.7 676.7,550.0 670.0,548.3 660.0,545.0 650.0,541.7 643.3,540.0 635.0,533.3 630.0,525.0"/>
<polygon fill="#E8F1FA" points="621.7,498.3 635.0,496.7 643.3,490.0 655.0,503.3 650.0,513.3 641.7,515.0 635.0,510.0 626.7,503.3"/>
<polygon fill="#E8F1FA" points="591.7,533.3 616.7,536.7 617.5,540.0 591.7,540.0"/>
<polygon fill="#5EA5D1" points="610.8,510.8 623.3,506.7 628.3,510.0 627.5,518.3 618.3,520.0 611.7,515.0"/>
<polygon fill="#9AC8E0" points="627.5,509.2 635.0,510.0 636.7,518.3 630.0,518.3"/>
<polygon fill="#9AC8E0" points="642.5,490.8 651.7,490.0 655.0,503.3 650.0,511.7 643.3,505.0"/>
<polygon fill="#BFBFBF" points="656.7,493.3 665.0,491.7 673.3,500.0 678.3,518.3 670.0,518.3 661.7,516.7 657.5,506.7"/>
<polygon fill="#CADEF0" points="635.0,528.3 646.7,526.7 656.7,528.3 656.7,538.3 646.7,536.7 636.7,533.3"/>
<polygon fill="#CADEF0" points="648.3,523.3 660.0,520.0 661.7,526.7 653.3,530.0"/>
<polygon fill="#9AC8E0" points="680.0,515.0 690.0,510.0 693.3,515.0 686.7,525.0"/>
<polygon fill="#CADEF0" points="688.3,511.7 701.7,510.0 700.0,520.0 691.7,526.7"/>
<polygon fill="#0D57A1" points="703.3,501.7 713.3,501.7 723.3,506.7 726.7,510.0 718.3,515.0 716.7,531.7 710.0,530.0 706.7,520.0 700.0,513.3"/>
<polygon fill="#0D57A1" points="695.0,500.0 701.7,503.3 705.0,506.7 700.0,510.0"/>
<polygon fill="#2F7FBC" points="665.0,551.7 673.3,553.3 678.3,558.3 675.0,562.5 666.7,560.0"/>
<polygon fill="#0D57A1" points="640.0,550.0 651.7,545.0 665.0,551.7 655.0,560.0 650.0,563.3 643.3,556.7"/>
<polygon fill="#5EA5D1" points="591.7,540.0 601.7,541.7 601.7,555.0 590.0,553.3 586.7,546.7"/>
<polygon fill="#0D57A1" points="601.7,541.7 616.7,541.7 616.7,553.3 613.3,560.0 603.3,560.0"/>
<polygon fill="#2F7FBC" points="616.7,536.7 636.7,540.0 640.0,550.0 635.0,548.3 623.3,548.3 618.3,546.7"/>
<polygon fill="#5EA5D1" points="613.3,548.3 623.3,548.3 625.0,568.3 616.7,566.7 613.3,560.0"/>
<polygon fill="#5EA5D1" points="623.3,548.3 640.0,550.0 643.3,560.0 631.7,568.3 625.0,568.3"/>
<polygon fill="#0D57A1" stroke="none" points="580.0,536.7 590.0,538.3 586.7,546.7 590.0,553.3 585.0,558.3 580.0,558.3"/>
<path fill="none" d="M580.0,536.7 L590.0,538.3 L586.7,546.7 L590.0,553.3 L585.0,558.3 L580.0,558.3"/>
<polygon fill="#0D57A1" points="585.0,556.7 610.0,565.0 630.0,573.3 628.3,578.3 610.0,573.3 595.0,570.0 585.0,561.7"/>
<polygon fill="#2F7FBC" points="595.0,570.0 610.0,573.3 611.7,580.0 601.7,581.7"/>
<polygon fill="#0D57A1" points="601.7,581.7 611.7,576.7 625.0,580.0 625.0,585.0 611.7,593.3 605.0,590.0"/>
<polygon fill="#5EA5D1" stroke="none" points="580.0,561.7 585.0,561.7 595.0,570.0 601.7,581.7 590.0,586.7 580.0,590.0"/>
<path fill="none" d="M580.0,561.7 L585.0,561.7 L595.0,570.0 L601.7,581.7 L590.0,586.7 L580.0,590.0"/>
<polygon fill="#BFBFBF" points="626.7,570.0 640.0,563.3 650.0,565.0 646.7,573.3 638.3,576.7 630.0,575.0"/>
<polygon fill="#5EA5D1" points="626.7,578.3 638.3,576.7 646.7,573.3 653.3,570.0 658.3,586.7 638.3,585.0 628.3,583.3"/>
<polygon fill="#9AC8E0" points="653.3,570.0 660.0,563.3 666.7,560.0 675.0,566.7 675.0,571.7 665.0,578.3 660.0,586.7 658.3,586.7"/>
<polygon fill="#E8F1FA" points="665.0,566.7 680.0,563.3 683.3,570.0 673.3,580.0 666.7,581.7"/>
<polygon fill="#E8F1FA" points="670.0,583.3 683.3,565.0 695.0,563.3 700.0,573.3 686.7,596.7 673.3,586.7"/>
<polygon fill="#E8F1FA" stroke="none" points="580.0,590.0 590.0,586.7 601.7,581.7 605.0,590.0 611.7,593.3 616.7,596.7 613.3,603.3 580.0,601.7"/>
<path fill="none" d="M580.0,590.0 L590.0,586.7 L601.7,581.7 L605.0,590.0 L611.7,593.3 L616.7,596.7 L613.3,603.3 L580.0,601.7"/>
<polyline fill="none" points="673.3,521.7 686.7,526.7 700.0,520.0 710.0,530.0 718.3,531.7 740.0,530.0"/>
<polyline fill="none" points="673.3,531.7 676.7,550.0 678.3,556.7 683.3,565.0 695.0,563.3 700.0,573.3 688.3,598.3"/>
<polyline fill="none" points="680.0,550.0 696.7,533.3 700.0,520.0"/>
<polyline fill="none" points="686.7,546.7 716.7,546.7 718.3,531.7"/>
<polyline fill="none" points="696.7,550.0 706.7,568.3 720.0,585.0"/>
<polyline fill="none" points="706.7,546.7 716.7,546.7 730.0,560.0 740.0,565.0"/>
<polyline fill="none" points="676.7,563.3 686.7,553.3 696.7,550.0"/>
<polyline fill="none" points="700.0,573.3 721.7,565.0"/>
<polygon fill="#BFBFBF" stroke="none" points="380.0,370.0 540.0,370.0 540.0,530.0 455.0,530.0 440.0,521.7 426.7,525.8 413.0,525.0 407.5,521.7 408.0,516.7 405.0,514.0 402.5,519.0 393.0,520.0 380.0,516.7"/>
<path fill="none" d="M455.0,530.0 L440.0,521.7 L426.7,525.8 L413.0,525.0 L407.5,521.7 L408.0,516.7 L405.0,514.0 L402.5,519.0 L393.0,520.0 L380.0,516.7"/>
<polygon fill="#E8F1FA" stroke="none" points="389.2,373.3 391.7,370.0 415.0,370.0 417.5,383.3 406.7,385.0 391.7,390.0 388.3,380.0"/>
<path fill="none" d="M389.2,373.3 L391.7,370.0 M415.0,370.0 L417.5,383.3 L406.7,385.0 L391.7,390.0 L388.3,380.0 L389.2,373.3"/>
<polygon fill="#CADEF0" stroke="none" points="415.8,370.0 441.7,370.0 442.5,376.7 449.2,385.0 430.0,386.7 420.0,383.3 417.5,373.3"/>
<path fill="none" d="M441.7,370.0 L442.5,376.7 L449.2,385.0 L430.0,386.7 L420.0,383.3 L417.5,373.3 L415.8,370.0"/>
<polygon fill="#CADEF0" points="430.0,387.5 448.3,385.8 449.2,397.5 442.5,400.0 435.8,393.3"/>
<polygon fill="#9AC8E0" stroke="none" points="441.7,370.0 470.0,370.0 475.0,391.7 458.3,398.3 449.2,397.5 448.3,385.0"/>
<path fill="none" d="M470.0,370.0 L475.0,391.7 L458.3,398.3 L449.2,397.5 L448.3,385.0 L441.7,370.0"/>
<polygon fill="#9AC8E0" stroke="none" points="470.0,370.0 505.0,370.0 526.7,390.0 516.7,393.3 520.0,401.7 506.7,406.7 495.0,409.2 480.0,398.3 475.0,391.7"/>
<path fill="none" d="M505.0,370.0 L526.7,390.0 L516.7,393.3 L520.0,401.7 L506.7,406.7 L495.0,409.2 L480.0,398.3 L475.0,391.7 L470.0,370.0"/>
<polygon fill="#0D57A1" stroke="none" points="458.3,398.3 475.0,393.3 495.0,409.2 506.7,406.7 520.0,401.7 516.7,393.3 540.0,390.0 540.0,485.0 530.0,485.0 515.0,478.3 511.7,488.3 501.7,501.7 485.0,495.0 480.0,486.7 476.7,470.0 460.0,456.7 458.3,435.0 463.3,433.3 460.0,416.7 465.0,408.3"/>
<path fill="none" d="M458.3,398.3 L475.0,393.3 L495.0,409.2 L506.7,406.7 L520.0,401.7 L516.7,393.3 L540.0,390.0 M540.0,485.0 L530.0,485.0 L515.0,478.3 L511.7,488.3 L501.7,501.7 L485.0,495.0 L480.0,486.7 L476.7,470.0 L460.0,456.7 L458.3,435.0 L463.3,433.3 L460.0,416.7 L465.0,408.3 L458.3,398.3"/>
<polyline fill="none" points="495.0,409.2 496.7,421.7 540.0,436.7"/>
<polyline fill="none" points="496.7,421.7 493.3,441.7 486.7,450.0 460.0,435.0"/>
<polyline fill="none" points="486.7,450.0 476.7,461.7 478.3,470.0"/>
<polyline fill="none" points="478.3,470.0 496.7,465.0 518.3,471.7 540.0,460.0"/>
<polyline fill="none" points="518.3,471.7 533.3,456.7 540.0,440.0"/>
<polyline fill="none" points="518.3,471.7 530.0,486.7"/>
<polygon fill="#9AC8E0" points="391.7,390.8 410.0,388.3 413.3,405.0 392.5,400.8"/>
<polygon fill="#9AC8E0" points="408.3,385.8 420.0,383.3 430.0,387.5 435.8,393.3 442.5,400.0 437.5,405.0 421.7,402.5 410.0,400.0"/>
<polygon fill="#E8F1FA" points="412.5,405.8 423.3,403.3 438.3,405.0 443.3,399.2 458.3,399.2 465.0,408.3 460.0,415.0 461.7,433.3 443.3,425.0 420.0,412.5"/>
<polygon fill="#5EA5D1" stroke="none" points="380.0,391.7 388.3,400.0 383.3,411.7 380.0,410.0"/>
<path fill="none" d="M380.0,391.7 L388.3,400.0 L383.3,411.7 L380.0,410.0"/>
<polygon fill="#5EA5D1" points="386.7,400.8 410.0,405.8 400.0,420.0 392.5,431.7 383.3,420.0 381.7,411.7"/>
<polygon fill="#E8F1FA" points="400.0,421.7 410.8,408.3 420.0,412.5 421.7,440.0 418.3,441.7 409.2,443.3 393.3,433.3"/>
<polyline fill="none" points="420.0,413.3 443.3,425.0 458.3,435.0 458.3,455.0 450.0,455.0 423.3,446.7 421.7,440.0"/>
<polyline fill="none" points="380.0,410.0 383.3,420.0 392.5,431.7 393.3,433.3 409.2,443.3 411.7,455.0 396.7,448.3 380.0,449.2"/>
<polygon fill="#2F7FBC" points="423.3,446.7 448.3,455.8 455.0,470.0 450.0,478.3 430.0,465.0 425.0,460.0"/>
<polygon fill="#2F7FBC" points="448.3,455.8 460.0,456.7 476.7,470.0 479.2,486.7 470.0,486.7 461.7,478.3 455.0,470.0"/>
<polygon fill="#0D57A1" points="425.0,463.3 430.0,465.0 450.0,478.3 445.0,490.0 425.0,473.3"/>
<polygon fill="#0D57A1" points="445.0,490.0 450.0,478.3 461.7,478.3 470.0,486.7 466.7,495.0 458.3,500.0"/>
<polygon fill="#2F7FBC" stroke="none" points="441.7,488.3 458.3,500.0 463.3,515.0 465.0,530.0 456.7,530.0 450.0,515.0"/>
<path fill="none" d="M441.7,488.3 L458.3,500.0 L463.3,515.0 L465.0,530.0 M456.7,530.0 L450.0,515.0 L441.7,488.3"/>
<polygon fill="#0D57A1" stroke="none" points="458.3,500.0 470.0,486.7 479.2,486.7 476.7,508.3 473.3,530.0 465.0,530.0 463.3,515.0"/>
<path fill="none" d="M458.3,500.0 L470.0,486.7 L479.2,486.7 L476.7,508.3 L473.3,530.0 M465.0,530.0 L463.3,515.0 L458.3,500.0"/>
<polygon fill="#0D57A1" stroke="none" points="476.7,495.0 488.3,495.0 501.7,501.7 516.7,501.7 516.7,511.7 513.3,523.3 476.7,530.0"/>
<path fill="none" d="M476.7,495.0 L488.3,495.0 L501.7,501.7 L516.7,501.7 L516.7,511.7 L513.3,523.3 L476.7,530.0 L476.7,495.0"/>
<polyline fill="none" points="475.8,508.3 488.3,510.0 515.0,520.0"/>
<polygon fill="#E8F1FA" stroke="none" points="510.0,498.3 526.7,496.7 540.0,500.0 540.0,530.0 508.3,530.0 518.3,516.7"/>
<path fill="none" d="M510.0,498.3 L526.7,496.7 L540.0,500.0 M508.3,530.0 L518.3,516.7 L510.0,498.3"/>
<polygon fill="#5EA5D1" stroke="none" points="528.3,486.7 540.0,483.3 540.0,501.7 530.0,498.3"/>
<path fill="none" d="M528.3,486.7 L540.0,483.3 M540.0,501.7 L530.0,498.3 L528.3,486.7"/>
<polygon fill="#2F7FBC" points="383.3,450.0 391.7,448.3 410.0,453.3 426.7,460.0 416.7,478.3 420.0,486.7 430.0,500.0 413.3,508.3 395.0,498.3 383.3,488.3"/>
<polyline fill="none" points="416.7,478.3 423.3,473.3 441.7,488.3 450.0,515.0 443.3,520.0 430.0,500.0 420.0,486.7"/>
<polygon fill="#E8F1FA" stroke="none" points="445.0,517.5 453.3,515.0 458.3,530.0 450.0,530.0"/>
<path fill="none" d="M445.0,517.5 L453.3,515.0 L458.3,530.0 M450.0,530.0 L445.0,517.5"/>
<polygon fill="#BFBFBF" stroke="none" points="560.0,84.9 574.3,81.4 598.1,81.4 608.8,87.3 612.4,104.6 620.7,87.3 639.8,97.4 638.6,103.4 633.8,110.5 642.1,98.6 645.7,97.4 673.1,108.1 700.5,122.4 699.3,127.2 693.3,129.6 698.1,149.8 713.6,171.2 720.0,173.6 720.0,176.0 560.0,176.0"/>
<path fill="none" d="M560.0,84.9 L574.3,81.4 L598.1,81.4 L608.8,87.3 L612.4,104.6 L620.7,87.3 L639.8,97.4 L638.6,103.4 L633.8,110.5 L642.1,98.6 L645.7,97.4 L673.1,108.1 L700.5,122.4 L699.3,127.2 L693.3,129.6 L698.1,149.8 L713.6,171.2 L720.0,173.6"/>
<polygon fill="#9AC8E0" points="576.7,104.0 588.6,99.8 607.6,112.9 600.5,123.6 602.9,130.2 588.6,134.3 582.6,140.9 581.4,111.7"/>
<polygon fill="#9AC8E0" points="600.5,123.6 608.8,112.9 621.9,111.1 632.6,127.2 619.5,140.3 612.4,145.0 607.6,134.3"/>
<polygon fill="#CADEF0" points="582.0,140.9 588.6,134.3 602.9,130.8 611.2,146.2 595.7,157.0 581.4,149.8"/>
<polygon fill="#5EA5D1" points="614.8,110.5 620.7,104.0 627.9,110.5 638.0,112.3 644.5,98.0 673.1,108.1 637.4,130.8 632.6,127.2 621.9,111.1"/>
<polygon fill="#E8F1FA" points="619.5,140.3 632.6,127.2 644.5,146.2 631.4,154.6"/>
<polygon fill="#9AC8E0" points="596.9,157.0 612.4,145.0 619.5,140.3 630.2,154.6 627.9,164.1 621.9,170.0 612.4,172.4"/>
<polygon fill="#E8F1FA" stroke="none" points="631.4,154.6 644.5,146.2 667.1,166.5 661.2,176.0 641.0,176.0"/>
<path fill="none" d="M631.4,154.6 L644.5,146.2 L667.1,166.5 L661.2,176.0 M641.0,176.0 L631.4,154.6"/>
<polygon fill="#CADEF0" stroke="none" points="662.4,176.0 667.1,170.0 671.9,176.0"/>
<path fill="none" d="M662.4,176.0 L667.1,170.0 L671.9,176.0"/>
<polygon fill="#CADEF0" stroke="none" points="560.0,137.9 579.0,148.6 580.2,158.1 569.5,176.0 560.0,176.0"/>
<path fill="none" d="M560.0,137.9 L579.0,148.6 L580.2,158.1 L569.5,176.0"/>
<polygon fill="#CADEF0" stroke="none" points="619.5,172.4 629.0,158.1 637.4,176.0 617.1,176.0"/>
<path fill="none" d="M619.5,172.4 L629.0,158.1 L637.4,176.0 M617.1,176.0 L619.5,172.4"/>
<polyline fill="none" points="560.0,111.7 575.5,104.6 582.6,99.8"/>
<polyline fill="none" points="583.8,98.6 591.0,84.3 592.1,82.0"/>
<polyline fill="none" points="637.4,130.8 645.7,146.2 667.1,166.5 670.7,176.0"/>
<polyline fill="none" points="671.9,110.5 668.9,123.6 670.7,137.9 680.2,137.9 693.3,129.6"/>
<polyline fill="none" points="669.5,168.9 700.5,151.0"/>
<polyline fill="none" points="599.3,97.4 607.6,90.3"/>
<polyline fill="none" points="607.6,105.8 613.6,95.0"/>
<polyline fill="none" points="631.4,109.3 641.0,99.8"/>
<polygon fill="#5EA5D1" points="706.2,468.1 721.9,446.9 727.5,450.0 730.0,467.5 720.0,470.0"/>
</g>
<g fill="#000" shape-rendering="crispEdges"><rect x="26" y="65" width="1292" height="1"/><rect x="26" y="65" width="1" height="830"/><rect x="1316" y="65" width="2" height="830"/><rect x="26" y="893" width="1292" height="2"/></g>
<text x="1081.5" y="662.7" font-size="28.7">DEPENDENCY</text>
<rect x="1083.5" y="677.5" width="27.5" height="27.1" fill="#E8F1FA" stroke="#878787" stroke-width="1.5"/>
<text x="1118" y="700.5" font-size="21.6">0.00 to 0.63</text>
<rect x="1083.5" y="704.6" width="27.5" height="27.1" fill="#CADEF0" stroke="#878787" stroke-width="1.5"/>
<text x="1118" y="727.6" font-size="21.6">0.63 to 0.67</text>
<rect x="1083.5" y="731.7" width="27.5" height="27.1" fill="#9AC8E0" stroke="#878787" stroke-width="1.5"/>
<text x="1118" y="754.7" font-size="21.6">0.67 to 0.70</text>
<rect x="1083.5" y="758.8" width="27.5" height="27.1" fill="#5EA5D1" stroke="#878787" stroke-width="1.5"/>
<text x="1118" y="781.8" font-size="21.6">0.70 to 0.73</text>
<rect x="1083.5" y="785.9" width="27.5" height="27.1" fill="#2F7FBC" stroke="#878787" stroke-width="1.5"/>
<text x="1118" y="808.9" font-size="21.6">0.73 to 0.79</text>
<rect x="1083.5" y="813.0" width="27.5" height="27.1" fill="#0D57A1" stroke="#878787" stroke-width="1.5"/>
<text x="1118" y="836.0" font-size="21.6">0.79 to 19.00</text>
<rect x="1083.5" y="840.1" width="27.5" height="27.1" fill="#BFBFBF" stroke="#878787" stroke-width="1.5"/>
<text x="1118" y="863.1" font-size="21.6">Missing</text>
</svg>
</body></html>
